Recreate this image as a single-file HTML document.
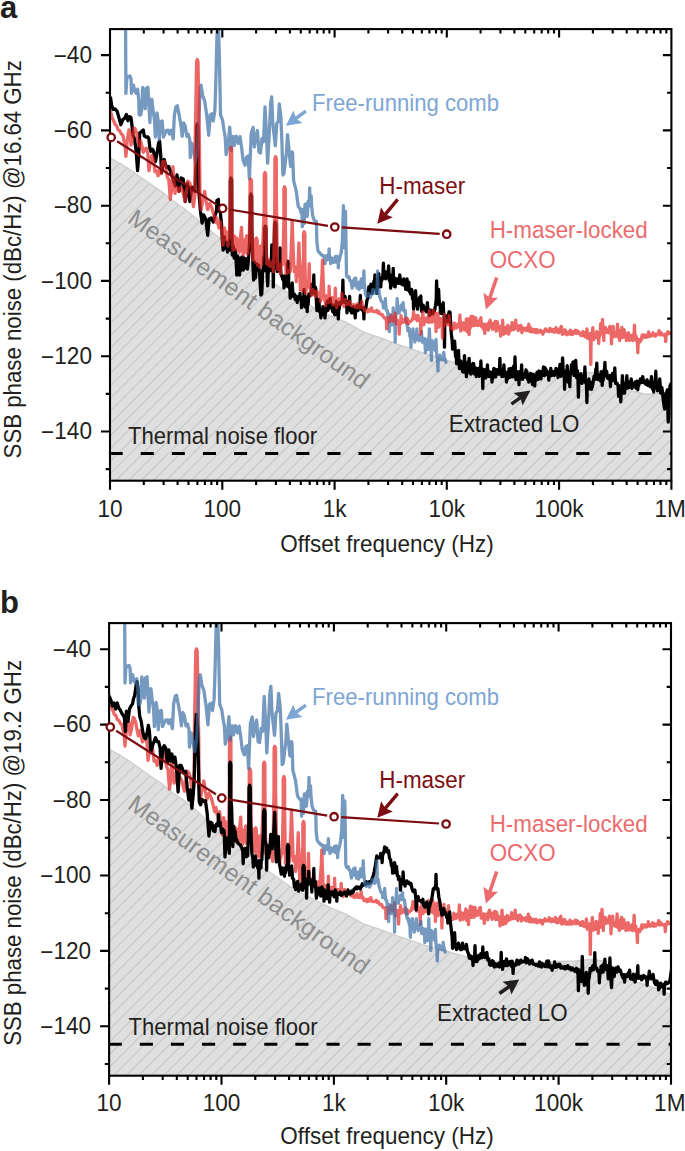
<!DOCTYPE html>
<html><head><meta charset="utf-8"><style>
html,body{margin:0;padding:0;background:#fff}
svg{display:block}
text{font-family:"Liberation Sans",sans-serif;fill:#231f20}
</style></head><body>
<svg width="685" height="1151" viewBox="0 0 685 1151">
<clipPath id="clipa"><rect x="110" y="29.1" width="561.4" height="451.6"/></clipPath>
<g clip-path="url(#clipa)">
<clipPath id="bga"><polygon points="108,482.7 108,158.3 111.3,158.6 121.1,164.1 129.9,169.6 140.8,177.2 151.8,184.9 162.7,192.6 173.7,201.3 184.6,209 195.6,217.7 206.5,227.6 217.5,236.3 228.4,245.5 248,260.5 263.6,276 287.4,292.5 297.2,299 330.7,316 346.5,322.5 364.3,332.3 380,337.6 397.9,344.3 424.8,353.5 446.8,360.5 460,364 491,371 540,374.5 575,374.5 588,372.5 596,373 605,377.5 615,384 625,389 632,391 645.6,394.3 659.3,393.6 673,395 673.4,482.7"/></clipPath>
<polygon points="108,482.7 108,158.3 111.3,158.6 121.1,164.1 129.9,169.6 140.8,177.2 151.8,184.9 162.7,192.6 173.7,201.3 184.6,209 195.6,217.7 206.5,227.6 217.5,236.3 228.4,245.5 248,260.5 263.6,276 287.4,292.5 297.2,299 330.7,316 346.5,322.5 364.3,332.3 380,337.6 397.9,344.3 424.8,353.5 446.8,360.5 460,364 491,371 540,374.5 575,374.5 588,372.5 596,373 605,377.5 615,384 625,389 632,391 645.6,394.3 659.3,393.6 673,395 673.4,482.7" fill="#dfdfdf"/>
<path clip-path="url(#bga)" d="M-350.2 482.7L105.4 27.1M-337.7 482.7L117.9 27.1M-325.1 482.7L130.5 27.1M-312.6 482.7L143 27.1M-300 482.7L155.6 27.1M-287.5 482.7L168.1 27.1M-275 482.7L180.6 27.1M-262.4 482.7L193.2 27.1M-249.9 482.7L205.7 27.1M-237.3 482.7L218.3 27.1M-224.8 482.7L230.8 27.1M-212.3 482.7L243.3 27.1M-199.7 482.7L255.9 27.1M-187.2 482.7L268.4 27.1M-174.6 482.7L281 27.1M-162.1 482.7L293.5 27.1M-149.6 482.7L306 27.1M-137 482.7L318.6 27.1M-124.5 482.7L331.1 27.1M-111.9 482.7L343.7 27.1M-99.4 482.7L356.2 27.1M-86.9 482.7L368.7 27.1M-74.3 482.7L381.3 27.1M-61.8 482.7L393.8 27.1M-49.2 482.7L406.4 27.1M-36.7 482.7L418.9 27.1M-24.2 482.7L431.4 27.1M-11.6 482.7L444 27.1M0.9 482.7L456.5 27.1M13.5 482.7L469.1 27.1M26 482.7L481.6 27.1M38.5 482.7L494.1 27.1M51.1 482.7L506.7 27.1M63.6 482.7L519.2 27.1M76.2 482.7L531.8 27.1M88.7 482.7L544.3 27.1M101.2 482.7L556.8 27.1M113.8 482.7L569.4 27.1M126.3 482.7L581.9 27.1M138.9 482.7L594.5 27.1M151.4 482.7L607 27.1M163.9 482.7L619.5 27.1M176.5 482.7L632.1 27.1M189 482.7L644.6 27.1M201.6 482.7L657.2 27.1M214.1 482.7L669.7 27.1M226.6 482.7L682.2 27.1M239.2 482.7L694.8 27.1M251.7 482.7L707.3 27.1M264.3 482.7L719.9 27.1M276.8 482.7L732.4 27.1M289.3 482.7L744.9 27.1M301.9 482.7L757.5 27.1M314.4 482.7L770 27.1M327 482.7L782.6 27.1M339.5 482.7L795.1 27.1M352 482.7L807.6 27.1M364.6 482.7L820.2 27.1M377.1 482.7L832.7 27.1M389.7 482.7L845.3 27.1M402.2 482.7L857.8 27.1M414.7 482.7L870.3 27.1M427.3 482.7L882.9 27.1M439.8 482.7L895.4 27.1M452.4 482.7L908 27.1M464.9 482.7L920.5 27.1M477.4 482.7L933 27.1M490 482.7L945.6 27.1M502.5 482.7L958.1 27.1M515.1 482.7L970.7 27.1M527.6 482.7L983.2 27.1M540.1 482.7L995.7 27.1M552.7 482.7L1008.3 27.1M565.2 482.7L1020.8 27.1M577.8 482.7L1033.4 27.1M590.3 482.7L1045.9 27.1M602.8 482.7L1058.4 27.1M615.4 482.7L1071 27.1M627.9 482.7L1083.5 27.1M640.5 482.7L1096.1 27.1M653 482.7L1108.6 27.1M665.5 482.7L1121.1 27.1" stroke="#c4c7c7" stroke-width="1.05" fill="none"/>
<polyline points="108,158.3 111.3,158.6 121.1,164.1 129.9,169.6 140.8,177.2 151.8,184.9 162.7,192.6 173.7,201.3 184.6,209 195.6,217.7 206.5,227.6 217.5,236.3 228.4,245.5 248,260.5 263.6,276 287.4,292.5 297.2,299 330.7,316 346.5,322.5 364.3,332.3 380,337.6 397.9,344.3 424.8,353.5 446.8,360.5 460,364 491,371 540,374.5 575,374.5 588,372.5 596,373 605,377.5 615,384 625,389 632,391 645.6,394.3 659.3,393.6 673,395" fill="none" stroke="#cfcfcf" stroke-width="1.4"/>
<line x1="109.6" y1="453.5" x2="671.4" y2="453.5" stroke="#000" stroke-width="2.9" stroke-dasharray="13.1 18.01"/>
<text transform="translate(126.2,221.8) rotate(35.5)" font-size="24.5" textLength="289.5" lengthAdjust="spacing" style="fill:#8d8d8d">Measurement background</text>
<path d="M110.6 98 111.6 105.3 113.1 109.4 115.2 108.9 117.2 111.5 119.2 118.6 120.8 124.7 122.8 119.6 124.4 118.6 126.4 114.5 127.9 120.7 129.5 116.6 131 117.6 132 125.8 133 135 134.6 139 136.1 151.3 137.6 170.7 138.7 156.4 139.7 132.9 141.2 131.9 143.3 129.9 144.3 136 145.8 137 147.9 137 148.9 139 149.9 148.2 150.9 151.3 152.5 149.3 153.5 151.3 154.5 156.4 155.5 161.5 157 153.4 158.6 143.1 159.6 141.1 160.6 153.4 161.6 172.8 163.2 161.5 164.2 159.5 165.2 163.6 166.8 167.7 168.8 166.6 169.8 169.7 170.8 171.8 172.4 176.9 173.9 182 175.4 186.1 177 175 179.1 191.3 181.1 178 183.2 179 185.2 201.5 187.3 183.1 189.8 201.5 191.9 187.2 194.9 191.3 196.3 160 196.6 126.2 197.3 124 198 126.2 198.3 160 198.8 191.3 200.5 211.7 202.1 223 203.6 214.8 205.7 218.9 207.7 235.3 209.2 218.9 211.3 217.9 213.3 222 214.9 215.8 216.5 211 216.9 200.5 217.3 211 218 209.4 218.4 199.5 218.8 209.2 220 209.7 221.5 224 222.3 240 223.2 250 224.4 237 225.3 248 226.5 242 227.5 252 228.5 244 229.5 250 230.2 225 230.3 180.2 231 178 231.7 180.2 231.8 225 232.3 255 233.2 246 234.2 258 235.2 250 236.2 262 236.8 275 237.6 256 238.5 268 239.6 275 240.5 258 241.5 270 242.5 257 243.3 270 244.3 258 245.3 268 246.3 259 247.5 269 248.5 258 249.5 245 250.3 215 250.3 196.2 251 194 251.7 196.2 251.8 225 252.8 262 253.6 280 254.6 262 255.5 278 256.5 264 257.5 270 258.5 265 259.5 272 260.9 295 261.8 294 262.7 269.7 263.2 271 263.6 257.2 264.1 270.8 264.6 228.3 265.3 226.1 266 228.3 266.5 262 267.7 285.8 268.6 264.8 269.7 261.3 270.6 270.7 271.4 260.8 271.8 245 272.2 260.3 272.9 259.5 273.3 286.9 273.8 259.5 274.6 224.2 275.3 222 276 224.2 276.3 263.4 277.4 271.5 278.3 266.2 279.6 266.1 280 248 280.4 266.3 280.9 273.8 282 276.6 282.9 279.4 283.6 276.5 284 287.9 284.4 276 284.9 280.8 285.7 279.7 286.1 275.6 286.6 279.8 287 286.2 287.7 283 287.4 263.5 288.1 261.3 288.8 263.5 288.6 283.7 289 287.5 289.8 286.3 290.2 298.1 290.6 285.9 291.1 291.4 291.8 290 292.2 282.8 292.6 289.7 293.1 296.3 293.9 296.1 294.3 294 294.8 295.7 295.2 299.7 295.9 295.9 296.3 300.1 296.8 296.5 297.2 302.5 298.4 297.1 299.6 298.6 300 293.4 300.4 298.8 301.1 297.6 301.5 307.7 301.9 297.7 302.4 303 303.7 300.2 304.1 289.3 304.6 300.6 305 306.8 305.9 296.8 306.8 297.3 307.2 311.7 307.6 296.8 308.1 304.6 308.9 293.9 310.2 295.4 311.1 293.9 311.9 284.2 312.8 293.8 313.4 289.8 313.8 275 314.2 290.1 314.9 288.8 315.3 287.2 315.8 288.9 316.4 301.3 316.9 310.7 317.3 301.1 317.8 307.7 318.4 307.2 318.9 299.5 319.3 306.5 319.8 312 320.4 311.1 320.9 317.9 321.3 310.8 321.8 315.2 322.6 310.2 323 306.6 323.4 310.3 323.9 314.5 324.6 310.7 325 317.9 325.4 309.7 325.9 312.4 326.7 303.8 327.1 301.5 327.6 303.5 328 310.3 328.9 299.8 329.7 304.6 330.1 298.5 330.6 304.5 331 308.2 332.2 305.4 332.7 311.7 333.1 304.9 333.6 312.5 334.2 311.1 334.7 314.8 335.1 310.8 335.9 312.1 336.3 301.5 336.8 312.3 337.2 315 337.9 306.9 338.3 318.9 338.8 307.5 339.2 309.1 339.9 302.4 340.4 304.6 340.8 302.7 341.3 302.6 342.4 299.2 342.9 280.1 343.3 299.3 343.8 302.4 344.6 298.6 345 296.4 345.4 298.5 345.9 303.2 346.6 302.3 347 312.8 347.4 301.6 347.9 308.2 349.2 307.2 349.6 296.4 350.1 306.9 350.5 311 351.2 308.6 351.6 312.8 352.1 308.6 352.5 312.9 353.2 308.5 353.6 306.6 354.1 308.5 354.8 309.8 355.2 317.9 355.6 309.3 356.1 311.8 357.2 305.6 358.1 310.3 358.9 305.1 359.9 306.9 360.3 295.4 360.8 307.1 361.8 309.7 362.7 307.8 363.4 307.6 363.9 318.9 364.3 307.7 364.8 308.9 365.9 307.7 367 299.9 367.9 298.2 368.4 291.2 368.9 286.8 369.3 290.9 369.8 293.2 370.4 286.4 370.9 284.2 371.3 286.3 371.8 286.3 372.2 293.4 372.6 285.6 373.1 290.9 373.9 281.2 374.4 284.6 374.9 275 375.3 284.6 375.8 287 376.4 282.1 376.8 293.4 377.2 282.9 377.7 287.7 378.4 280.4 378.8 273.7 379.2 280.8 379.7 285.1 380.4 278.1 380.8 286.8 381.2 278 381.7 280.6 382.9 275.1 383.4 263.1 383.8 274.9 384.3 278.1 385.6 272.3 386 278.9 386.4 271.8 386.9 277.2 388.2 274 388.6 265.8 389.1 274 389.5 280.9 390.2 275.1 390.6 288.1 391.1 275.5 391.5 281.2 392.8 280.1 393.2 268.4 393.6 279.6 394.1 286.2 394.8 278.1 395.2 286.8 395.6 278.6 396.1 282.5 397.2 278.9 398.1 283.4 399.4 279.6 399.8 275 400.2 279.1 400.7 283.6 401.4 281 401.8 284.2 402.2 280.3 402.7 284.8 403.4 282.8 403.8 278.9 404.2 282.4 404.7 285.4 405.2 283.7 405.7 289.4 406.1 283.5 406.6 285.6 407 278.9 407.4 284.9 407.9 290 408.8 282.2 409.2 290 409.7 292 410.1 290.6 410.6 294.1 411.2 291.6 411.6 289.4 412.1 291 412.5 298.8 413.2 296.8 413.6 309.1 414.1 297.3 414.5 302.4 415.2 302.1 415.6 290.7 416.1 302.8 416.5 305.8 417.2 300.9 417.6 309.1 418.1 300.4 418.5 304.6 419.4 297.6 420.4 303.7 420.8 296 421.2 304.7 421.7 311.3 422.4 305.4 422.8 307.8 423.2 305.1 423.7 309.5 424.9 307.4 425.4 310.4 425.8 308 426.3 311.8 426.9 309.8 427.4 302.6 427.8 309.7 428.3 312.2 428.9 310 429.4 315.7 429.8 310 430.3 314.6 432 310.4 432.9 313.8 434.6 310.4 435.5 305.3 436.2 300.2 436.6 280.9 437.1 300.3 437.5 304.3 438.2 300.6 438.6 289.4 439.1 300.5 439.5 304.5 440.1 304.5 440.5 313.1 440.9 304.8 441.4 313.5 442.2 305.5 442.8 312.6 443.2 302.6 443.6 312.8 444.1 314.7 444.5 347.2 444.9 315 445.4 319.8 446.1 316.7 446.5 318.3 446.9 316.3 447.4 321.9 449.1 311.8 450 312.3 451.3 333.4 452.2 341.1 452.6 349.1 453.1 341.1 453.5 348.2 454.2 349.2 454.6 341.2 455.1 348.7 455.5 356.4 456.2 354.6 456.6 363.6 457.1 354.5 457.5 362.8 458.1 359.5 458.5 350.4 458.9 359.8 459.4 368.6 460.1 360.6 460.5 366.2 460.9 361.1 461.4 367.1 462.1 365.8 462.5 371.5 462.9 365.7 463.4 372.2 464.1 366.5 464.5 355.7 464.9 367.1 465.4 369.2 465.9 366.9 466.4 376.7 466.8 366.6 467.3 370.3 468.1 361.6 468.7 368.3 469.1 358.3 469.6 368.6 470 373.4 470.6 367.9 471 374.1 471.4 368 471.9 373.2 472.8 363.3 473.2 370 473.7 363.6 474.1 370.5 474.6 374.1 475.9 368.1 476.3 376.7 476.8 369 477.2 371.2 478.2 368.8 479.1 376.4 479.9 367.3 480.4 371.6 480.9 361 481.3 371.7 481.8 375.6 482.4 369.2 482.8 388.5 483.2 369.3 483.7 374.8 484.4 369.9 484.8 374.1 485.2 369.8 485.7 378 486.9 371.7 487.4 364.9 487.8 372.1 488.3 376.4 489.4 371.5 490.3 376.6 491.6 372.5 492 382 492.4 372.7 492.9 378.5 493.8 368.3 494.2 373.2 494.7 368.8 495.1 372.5 495.6 376.9 496.9 369.6 497.3 374.1 497.8 369.9 498.2 374.1 499.4 370.9 499.9 358.3 500.3 370 500.8 374.8 501.4 369.7 501.9 376.7 502.3 369.2 502.8 376.4 503.4 372.3 503.9 364.9 504.3 372.4 504.8 376 506.1 372.5 506.5 382 506.9 372.4 507.4 379.1 508.7 372.4 509.1 368.8 509.6 372.9 510 377.4 510.9 368.3 511.4 370.8 511.8 376.7 512.2 370.5 512.7 376.8 513.6 366.2 514.5 373.5 515 357 515.5 373.5 515.9 379.5 516.5 371.8 517 379.3 517.5 371.6 517.9 376.4 518.5 372.3 519 384.6 519.5 371.6 519.9 379 521.1 375.3 521.6 364.9 522.1 375.1 522.5 379.4 523.8 374 524.2 376.7 524.7 373.7 525.1 377.2 526 369.8 526.4 375.3 526.9 371.5 527.4 375.7 527.8 379.8 528.3 376.3 528.8 382 529.2 376.5 529.7 381 530.5 373.4 531 379.4 531.5 374.1 532 378.7 532.4 384.5 533.2 374.1 534.2 376.8 534.7 385.9 535.2 376.3 535.6 380.5 536.5 376.2 537 372.3 537.5 376.5 537.9 379.7 538.4 373.5 538.9 371 539.4 373.1 539.8 375.8 540.4 371.5 540.9 378.8 541.4 372 541.8 376.3 543 372.6 543.5 367 544 371.7 544.4 375.7 545.2 368 545.8 372.3 546.2 369.6 546.7 372.2 547.1 374.5 548.3 372.5 548.8 380.1 549.2 372 549.7 376.4 550.3 372.2 550.8 368.3 551.2 372.1 551.7 375.6 552.9 372 553.4 373.6 553.9 371.8 554.3 375.5 555.5 371.5 556 368.3 556.5 371.7 556.9 374.1 557.5 369.3 558 377.5 558.5 369.3 558.9 374.1 559.5 369 560 364.4 560.5 368.4 560.9 376.3 562.1 368.8 562.6 357.8 563.1 369.4 563.5 373.5 564.1 370.7 564.6 389.3 565.1 371.6 565.5 378.6 566.8 377.4 567.2 365.7 567.7 377.6 568.1 382.1 569.3 372.6 569.8 386.7 570.2 372.8 570.7 374 571.5 364.7 572.6 370.5 573.1 361.8 573.6 370.8 574 375.4 575.2 369.4 575.7 360.4 576.2 369.1 576.6 377.6 577.5 370.6 577.9 377.5 578.4 397.2 578.9 377.3 579.3 382.2 580.5 378.6 581 373.6 581.5 378.2 581.9 383.3 583 378.8 583.9 381.6 584.4 378 584.9 367 585.4 378.9 585.8 383.1 586.4 382 586.9 402.5 587.4 381.4 587.8 387.4 588.4 385.4 588.9 378.8 589.4 385.8 589.8 388.8 591 382.7 591.5 389.3 592 382.2 592.4 387 594.1 376.2 595 379.4 595.9 368.6 596.3 374.8 596.8 363.1 597.2 375.3 597.7 379.5 598.9 375.1 599.4 378.8 599.9 374.7 600.3 380.9 601.1 371.7 601.8 375.2 602.2 385.4 602.7 375.5 603.1 380.3 604 369.9 604.4 375 604.9 362.4 605.4 374.7 606.1 375.8 606.6 371.2 607.1 375.4 607.5 378 608.3 376.4 608.8 378.8 609.2 376.5 609.9 375.6 610.4 386.5 610.9 375.5 611.3 379.4 612.1 377.1 612.6 373.4 613.1 377.4 613.5 380.7 614.3 377.2 614.8 367.9 615.2 377.6 615.7 383.3 617 383.2 618.1 385.9 618.6 396.4 619.1 385.6 619.5 390.7 620.3 391.1 620.8 401.8 621.2 391 621.9 389.5 622.4 375.6 622.9 388.9 623.3 393.2 624.1 383.2 624.6 393.1 625.1 383.3 625.5 388.1 626.3 382.6 626.8 375.6 627.2 382.6 627.7 388 628.5 382.1 629 387.6 629.5 381.9 629.9 385.8 630.8 383 631.2 378.8 631.7 383 632.1 388.3 632.9 383.1 633.4 385.4 633.9 383.6 634.5 384.3 635 382.1 635.5 383.8 635.9 388.1 636.8 381.1 637.3 384 637.8 389.8 638.2 384 638.7 385.7 639.5 380.9 640 381.4 640.5 378.8 641 381.6 641.4 382.6 642.2 380.8 642.7 376.6 643.2 380.2 643.6 382.6 644.4 381.2 644.9 383.2 645.4 381.2 645.8 384.4 646.6 381.3 647.1 379.9 647.6 381.7 648 385.5 648.8 382 649.3 385.4 649.8 382.2 650.2 386.7 651 381.7 651.5 376.6 652 381.7 652.4 388.8 653.2 382.5 653.7 392 654.2 382.6 654.6 387.4 655.3 383.9 655.8 371.2 656.2 383.4 657 383.7 657.5 390.9 658 383 658.4 388.3 659.2 385.6 659.7 378.8 660.2 385.3 660.6 393 661.9 387.6 663.5 401.8 664.6 409 665.5 396 666 393 666.5 395.6 667.3 390 668.2 422 669.2 398 670 386 670.8 384" fill="none" stroke="#000" stroke-width="3.3" stroke-linejoin="round" stroke-linecap="round" opacity="1"/>
<path d="M125.6 20 125.6 29.5 125.9 93.4 126.9 76 128.4 77 130 76 131 79.1 131.5 93.4 132.5 85.2 133.5 85.2 134.6 90.3 136.1 93.4 137.6 89.3 138.7 99.5 139.2 114.9 140.7 114.9 141.7 109.7 142.7 87.3 144.3 99.5 145.3 108.7 146.3 88.3 147.9 87.3 148.9 105.7 149.9 122.5 150.9 99.5 151.9 99.5 153 109.7 154.5 120 155.3 137 157 112.8 158.1 120 159.2 140 160.6 122 162.2 121 163.4 137 165.2 133.3 166.4 130.5 168.3 130.2 169.5 134 171.4 130.2 173.2 139 174.4 114.9 176 106.7 177.3 105.7 179.1 114.9 181.1 126.1 182.2 136.3 183.7 123 185.2 126.1 186.8 136.3 188.3 134.3 189.8 140 190.3 157.6 191.9 143.3 193.5 150 195.5 162 197.5 150 199.2 110 200.2 88 201.1 85.2 202.6 95.4 204.6 100.6 206.7 114.9 208.7 135.3 210.3 114.9 211.8 113.8 213.3 121 214.9 109.7 215.9 79.1 216.9 38.2 217.4 25 218.4 25 219.4 58.7 220 89.3 220.5 114.9 222.5 120 224 130.2 225.2 137 226.1 154.5 228.1 145.3 229.7 127.1 231.2 150.4 233.2 136.3 234.3 145.3 236.3 136.1 238.4 143.3 240 136.6 241.5 146.9 243.1 160.1 245.1 165.3 246.6 157.1 248.2 156.1 249.4 179 251.2 133.6 253.1 127.4 254.3 146.9 255.8 136.6 257.4 130.5 258.9 152 260.4 153 262 138.7 263.5 141.7 265 107 266.6 136.6 267.6 163.2 269.1 136.6 270.7 102.9 271.7 96.8 272.7 121.3 273.7 131.5 275.3 145.8 276.8 123.4 278.3 121.3 279.3 103.9 280.9 117.2 281.9 141.7 282.9 175 284 173.5 285.5 160.2 286.5 152 287.5 134.6 289 150 290.6 166.3 292.1 152 292.6 153 293.6 180.7 296.2 190.9 298.2 206.2 300.3 209.3 301.2 213.1 301.9 209.5 302.3 226.6 302.8 209.5 303.2 219.3 304.1 223.6 305.1 204.2 306.6 204.2 307.2 216.4 308.2 201.1 309.2 204.4 309.7 187.8 310.1 204.5 310.8 205.9 311.2 196 311.6 206.2 312.8 216.4 314.3 220.5 315.2 221.5 316.4 221.5 316.9 242 317.9 250.4 318.8 252 320.4 253.5 321.3 254.9 322.1 254.9 323.5 256.6 324.6 256.1 325 263.7 325.4 255.9 325.9 258.7 327.2 259.7 327.6 255.5 328.1 259.4 328.7 259 329.1 248.9 329.6 259 330.2 257.9 330.7 263.7 331.1 257.8 331.6 260.3 332.7 258.6 333.6 262.4 334.9 260.2 335.3 256.6 335.8 260.6 336.2 262 337.1 256.4 337.9 258.1 338.3 267.8 338.8 257.6 339.2 260.9 340.4 255.5 341.3 252.2 342.4 240.2 343.4 205.7 344.3 247.6 345.5 211.3 346 242 346.5 275 347.4 277.1 349 277 349.9 280.8 351.1 281.1 352.1 288.2 353 282.5 353.8 282 354.2 279 354.6 281.7 355.2 285.7 355.7 278 356.1 285.5 356.8 283.7 357.2 288.2 357.6 283.7 358.1 284.6 358.9 282.3 359.3 289.3 359.8 282.2 360.2 283.5 360.9 282.1 361.3 279 361.8 282.3 362.2 287.4 363.4 282.4 363.9 270.9 364.3 282.9 365.4 293.4 366.3 296 367.2 296.1 368.3 293.4 369.2 296 369.9 294.5 370.3 297.3 370.8 294.3 371.2 295.3 372.4 292.5 372.9 289.4 373.3 292.6 373.8 292 375.1 290.7 375.5 293.4 375.9 290 376.4 292.7 377.1 291.6 377.5 271 377.9 291 378.4 293.1 378.8 289.4 379.2 292.8 379.7 296.1 380.8 299.9 381.7 301.8 382.9 302.4 383.4 307.8 383.8 302.5 384.3 307.7 384.9 305.6 385.4 298.6 385.8 306 386.3 310.2 387.3 310.4 388.2 317.4 388.9 314.5 389.3 331.5 389.8 314.5 390.2 320.3 390.9 321.1 391.3 318.3 391.8 320.6 392.2 324.9 392.8 319.4 393.2 307.8 393.6 319.5 394.1 319.9 394.8 313.4 395.2 342 395.6 312.8 396.1 314.7 396.8 310.4 397.2 298.6 397.6 310.6 398.1 312.1 398.8 307.9 399.2 313.1 399.6 307.6 400.1 309.2 401.1 305.2 402 309.6 402.7 307.7 403.1 302.6 403.6 307.7 404 311 405.1 310.4 406 319.9 407 323.6 407.9 330.8 408.6 328.6 409 331.5 409.4 328.6 409.9 336.5 410.6 335 411 347.2 411.4 334.9 411.9 337.8 412.6 336.8 413 328.8 413.4 337 413.9 338.2 414.4 336.7 414.9 342 415.3 336.4 415.8 340.1 416.4 335.7 416.9 328.8 417.3 336 417.8 339.1 418.4 335.7 418.9 340.7 419.3 336.1 419.8 340.2 421.1 338.6 421.5 331.5 421.9 338.7 422.4 342.2 423.1 338.7 423.5 342 423.9 338.5 424.4 343.6 424.9 339.2 425.4 352.5 425.8 339.3 426.3 346.4 426.9 343.9 427.4 339.3 427.8 344 428.3 349.6 428.9 343.7 429.4 328.8 429.8 343.9 430.3 345.4 430.9 340.4 431.4 360.4 431.8 340.5 432.3 344.3 433.3 342 434.2 349.2 435.1 346.7 435.6 350.7 436 339.3 436.4 350.5 436.9 356.5 437.4 355.9 437.9 370.9 438.3 355.7 438.8 358.2 439.9 355.1 440.8 359.7 441.9 357.7 442.8 359.9 443.4 356.6 443.8 352.5 444.2 356.9 444.7 357.9 445.8 362" fill="none" stroke="rgb(60,110,165)" stroke-width="3.3" stroke-linejoin="round" stroke-linecap="round" opacity="0.7"/>
<path d="M110.6 111.5 112.1 117.6 113.6 120.7 115.2 124.7 116.7 125.8 118.2 129.9 119.8 130.9 121.3 133.9 122.8 135 123.8 140.1 124.9 143.1 125.9 156.4 127.4 139 128.9 129.9 130 132.9 131 145.2 132.5 139 134.1 127.8 135.1 128.8 136.6 132.9 138.1 141.1 139.2 146.2 140.7 141.1 142.2 147.2 143.3 152.3 144.8 149.3 146.3 148.2 147.9 153.4 148.9 170.7 150.4 161.5 151.9 155.4 153.5 159.5 155 171.7 156.5 170.7 158.1 175.8 159.6 169.7 161.1 173.8 162.7 161.5 164.2 161.5 165.7 167.7 167.3 176.9 168.8 179.9 170.3 199.3 171.9 187.1 172.9 166.6 173.9 182 175 193.4 176.5 187.2 178.6 191.3 180.6 187.2 182.7 191.3 185.2 201.5 187.8 181.1 189.8 183.1 191.4 189.3 193.4 206.6 194.9 195.4 195.2 140 195.9 100 196.6 61.7 197.3 59.5 198 61.7 198.7 100 199.4 140 200 195 201.1 209.7 202.6 201.5 204.6 191.3 206.2 201.5 207.7 209.7 209.7 203.6 211.8 207.7 213.8 214.8 215 218.7 215.4 222 215.8 218.6 216.5 221.2 216.9 217.9 217.3 221 217.8 224.1 218.5 224.6 218.9 228.1 219.3 225.1 220.1 226.8 220.5 222 220.9 226.8 222 232.2 223 245 224.5 228 225.5 240 226.5 232 227.6 233.4 228 246 228.4 233.7 229.5 238 230.2 190 230.3 149.6 231 147.4 231.7 149.6 231.8 190 232.2 240 233 250 234.5 236 235.5 249 236.5 238 237.5 250 238.5 240 239.5 252 240.6 236 241.5 227.4 242.2 245 243.2 255 244.5 240 245.5 252 246.5 236 247.5 254 248.5 245 249.4 232 249.9 210 250.1 181.3 250.8 179.1 251.5 181.3 251.7 210 252.2 248 253 260 254.5 240 255.5 262 255.8 240.2 256.5 238 257.2 240.2 257.5 265 258.5 250 259.5 267 260.5 246 261.5 265 262.5 250 264.2 210 264.3 174.7 265 172.5 265.7 174.7 265.8 210 266.6 263.4 267.5 264.4 268.2 261.6 268.7 259.3 269.1 261.5 269.6 266.2 270.4 263.4 270.8 266.4 271.2 263.3 271.7 266.7 272.9 261.6 273.3 271.5 273.8 261 274.8 200 274.9 158.8 275.6 156.6 276.3 158.8 276.4 200 277.4 263.4 277.9 269.5 278.3 263.7 278.8 267.2 280.1 264.4 280.5 273.6 280.9 264.4 281.4 265.9 282.1 264.2 282.5 259.3 282.9 264.2 283.9 220 283.9 189 284.6 186.8 285.3 189 285.3 220 286.1 273.6 287 273.2 288.1 270.5 289 272.3 290.2 271.5 291.6 240 292.2 220.4 292.8 240 293.9 267.2 294.3 271.5 294.8 266.8 295.2 268.2 295.9 267.6 296.3 281.7 296.8 267.3 297.2 276.3 298.3 260 298.9 242.9 299.5 260 300.4 289.9 301.6 276.6 302 291.3 302.4 276.2 303.6 255 303.5 233.9 304.2 231.7 304.9 233.9 304.8 255 305.6 293.4 306.5 287.1 307.7 287.2 308.7 280 309.2 263.7 309.7 280 310.7 291.3 311.6 295.4 312.4 291.2 312.8 289.3 313.2 291.1 313.7 294.3 314.4 291.8 314.8 295.4 315.2 291.6 315.7 296.5 316.4 293.5 316.9 291.3 317.3 292.8 317.8 294.9 318.9 293.4 319.9 292.4 320.4 301.5 320.8 292.1 322 275 322.5 260.1 323 275 324 299.5 325.1 295.8 325.5 305.6 325.9 295.7 326.4 302.9 327.6 301.5 328.7 302.6 329.1 286.2 329.6 301.8 330.7 301.5 331.6 301.8 332.2 297.4 332.7 304.6 333.1 297.9 333.6 304.8 334.9 302.3 335.3 288.2 335.8 302.7 336.4 299.6 336.8 307.7 337.2 299.8 337.7 304 338.9 299 339.3 301.5 339.8 299 340.2 304.7 341.4 300.9 341.9 293.4 342.3 300.8 342.8 302.6 343.4 300.5 343.9 306.6 344.3 300.4 345.1 302.2 345.5 299.5 345.9 301.8 346.4 304.4 347.5 303.6 348.4 304 349.6 301.5 350.5 304.7 351.6 305.6 352.5 306.1 353.6 304.6 354.5 306.5 355.2 305.1 355.7 307.7 356.1 305.3 356.6 307.5 357.2 306 357.7 303.6 358.1 305.6 358.6 307.4 359.4 305.6 359.8 307.7 360.2 305.8 360.7 307 361.4 305.3 361.8 301.5 362.2 305.6 362.7 308.2 363.9 307.7 364.8 310.7 365.9 310.7 367.2 310.3 367.6 311.8 368.1 309.6 368.5 310.7 369.4 309.4 370.2 311.2 371.2 310.8 371.6 307.8 372.1 310.3 372.5 311 374.2 311.8 375.1 311.6 376.8 310.4 377.7 312.8 378.6 311.4 379.5 313.1 380.4 314.2 382.1 314.4 383 316.2 384.7 318.3 385.6 318.4 386.2 317.9 386.7 328.8 387.1 318.4 387.6 319.2 388.6 318.3 389.5 321.9 390.4 316.6 390.9 317.4 391.3 315.7 391.8 318.1 392.2 319.7 392.8 317.3 393.2 321 393.6 317.6 394.1 320.6 394.8 319.6 395.2 313.1 395.6 319.1 396.1 324 396.8 320.9 397.2 323.6 397.6 320.5 398.1 321.8 398.8 320.9 399.2 334.1 399.6 321.6 400.1 324.8 400.7 322.2 401.1 315.7 401.6 321.7 402 322.8 402.7 320 403.1 322.3 403.6 320 404 321.9 405.2 321.3 405.7 318.3 406.1 320.6 406.6 322.9 407.4 318.5 407.9 320.8 408.4 323.6 408.8 321.3 409.3 322 411 321 411.9 320.3 413.2 316.7 413.6 311.8 414.1 316.8 414.5 318.6 416.2 315.7 417.1 320.6 417.9 315.4 418.9 319.6 419.8 321.1 420.4 318.9 420.8 334.1 421.2 318.9 421.7 322.1 422.4 319.1 422.8 311.8 423.2 319.4 423.7 324.9 425.4 318.3 426.3 321.3 426.9 317.8 427.4 321 427.8 317.5 428.3 322.3 428.9 317.7 429.4 310.4 429.8 317.2 430.3 322 430.9 317.7 431.4 321 431.8 316.9 432.3 322.2 432.9 318.3 433.3 310.4 433.8 318 434.2 320.9 435.1 313.1 435.6 316.9 436 331.5 436.4 317.8 436.9 322.8 437.4 319.1 437.9 313.1 438.3 319.2 438.8 327.1 440.1 320.3 440.5 318.3 440.9 320.4 441.4 324.3 442.1 320.3 442.5 338 442.9 320 443.4 326.7 444.1 321.1 444.5 314.4 444.9 322 445.4 324.5 446.1 320.8 446.5 323.6 446.9 320.8 447.4 324.4 448.7 321.8 449.1 315.7 449.6 322.2 450 325.7 451.7 328.8 452.6 329.4 453.5 329.1 454.4 323.1 454.9 326.6 455.3 324.2 455.8 326.5 456.2 328.1 457.4 324.4 457.9 326.8 458.3 323.9 458.8 326.6 459.4 324.9 459.9 315 460.3 324.8 460.8 331 461.8 322.8 462.7 327 463.4 322.8 463.8 329.4 464.2 323.1 464.7 329.9 465.9 326.7 466.4 318.9 466.8 326.2 467.3 331.6 468.1 319 468.7 322.6 469.1 334.7 469.6 323 470 328.6 470.6 323.2 471 316.3 471.4 322.7 471.9 325.8 472.8 316.5 473.2 322.4 473.7 325.5 474.1 321.6 474.6 325.3 475.2 321.8 475.6 317.6 476.1 322 476.5 325.3 477.8 321.4 478.2 325.5 478.6 321.8 479.1 324.6 479.9 320 480.4 323.8 480.9 317.6 481.3 323.1 481.8 327.1 482.8 324.2 483.7 329.6 484.4 324.1 484.8 333.4 485.2 324.5 485.7 328.9 487.4 324.2 488.3 330.1 489.1 322.1 489.7 324.6 490.1 320.2 490.6 324.9 491 327.1 492.2 323.4 492.7 329.4 493.1 323.7 493.6 327.4 494.9 325 495.3 321.5 495.8 325.3 496.2 331.1 497.1 321.7 498 325.5 498.9 330.1 500.2 327 500.6 336 501.1 326.5 501.5 332.8 502.2 330.7 502.6 320.2 503.1 330.2 503.5 334.3 504.8 327.8 505.2 333.4 505.6 327.4 506.1 332.9 507.4 328.6 507.8 325.5 508.2 328.3 508.7 334.2 509.9 327.4 510.4 329.4 510.8 327.9 511.3 330.2 512.1 322.7 513.1 326.8 514 329.5 515.2 327 515.7 320.2 516.2 326.8 516.6 328 517.8 326.4 518.3 330.7 518.8 326 519.2 328.6 520 325.6 520.5 327.7 521 325.5 521.5 327.7 521.9 332.6 523.6 328.1 524.5 329.3 525.8 328.4 526.2 330.7 526.7 327.9 527.1 330.6 528.3 329.2 528.8 324.2 529.2 329.4 529.7 331.3 530.5 327.5 531 329.8 531.5 332 532 329.1 532.4 331.6 534.1 329.4 535 332.3 536.7 329.4 537.6 332.8 538.5 332 539.4 331 540.3 330.2 541.2 332.3 542.4 331.6 542.9 334.2 543.4 331.5 543.8 331.9 545.5 328.9 546.4 331 548.1 330.2 549 331.7 549.9 328.5 550.8 328.9 551.7 331.4 552.9 329.5 553.4 331.5 553.9 329.6 554.3 332.3 555.5 330.5 556 327.6 556.5 330.7 556.9 331.9 558.1 329.7 558.6 332.8 559.1 329.8 559.5 331.6 560.4 328 560.8 331.4 561.3 326.3 561.8 330.9 562.2 334.3 563.2 332.8 564.1 333.6 565 329.8 565.9 331.5 566.8 334.7 568 332.4 568.5 334.2 569 332 569.4 333.7 570 332.6 570.5 330.2 571 332.9 571.4 334.6 572.6 332.1 573.1 334.2 573.6 331.6 574 332.9 575.2 332.4 575.7 330.2 576.2 331.8 576.6 333.5 577.5 330.9 578.4 331.5 579.3 333.6 580.5 333.4 581 335.5 581.5 333.6 581.9 335.3 582.5 333.3 583 331.5 583.5 333.9 583.9 335.5 584.4 332.7 584.9 336.8 585.4 332.6 585.8 336.9 586.4 334.7 586.9 328.9 587.4 334.6 587.8 338.6 588.9 334.2 589.8 335.8 590.3 333.5 590.8 364.4 591.2 333.7 591.7 337.5 592.3 334.6 592.8 327.6 593.2 334.6 593.7 339.8 594.8 335.5 595.7 337.5 596.8 331.5 597.7 337.5 598.2 332.8 598.7 343.4 599.2 333.5 599.6 336.3 600.2 333.8 600.7 323.7 601.2 333.6 602 330 602.5 319.4 603 330.4 603.3 328.8 603.8 340.5 604.2 329.1 605.5 327.4 606.4 332.3 607.7 329.6 608.6 332.7 609.4 328.7 609.9 326.3 610.4 328.9 611 329 611.5 343.8 612 329 612.6 332.6 613.1 326.3 613.6 331.9 614 336.6 614.8 332.7 615.3 336.1 615.8 332.7 616.2 336.1 617 331.8 617.5 324.1 618 331.8 618.4 337.2 619.2 330.3 619.7 340.5 620.2 330.5 620.6 334.7 621.4 332 621.9 327.4 622.4 331.9 622.8 337.5 623.6 334.5 624.1 329.6 624.6 334.1 625 336 625.8 333.6 626.3 340.5 626.8 334.3 627.2 338 628 335.7 628.5 332.8 629 336 629.4 340.4 630.7 336.1 631.6 338.1 632.3 335.1 632.8 340.5 633.2 335.2 634 336.7 634.5 325.2 635 337.6 635.6 339.9 636.1 336.1 636.6 340.9 637.3 339.3 637.8 352.6 638.2 339.3 638.7 343.5 639.5 339.9 640 341.6 640.5 339.3 640.9 340.7 641.8 336.9 642.2 335 642.7 337.1 643.1 337.7 644.3 335 645.2 337.1 646 335.5 646.5 337.2 647 335.2 647.4 336.9 648.2 335.5 648.7 331.8 649.2 335 649.6 336.4 650.4 334.8 650.9 336.1 651.4 334.6 651.8 335.2 652.6 334.9 653.1 332.8 653.6 335.2 654 335.8 654.8 334.2 655.3 336.1 655.8 334.5 656.2 335.5 657.5 333.9 658.6 332.9 659.1 330.7 659.6 333.5 660 334.8 661.3 332.8 662.2 334.8 663.5 335 664.4 335.2 665.2 334.3 665.7 341.6 666.2 334.9 666.6 335.3 667.9 331.8 668.8 333.6 670.1 332.8 671 334.1 672 333" fill="none" stroke="rgb(228,40,38)" stroke-width="3.3" stroke-linejoin="round" stroke-linecap="round" opacity="0.7"/>
<path d="M117.1 141.2L216.7 204.6M229.5 209.5L327.9 225.9M341.8 227.4L439.7 233.8" fill="none" stroke="#7d0c10" stroke-width="2.2"/>
</g>
<rect x="110" y="29.1" width="561.4" height="451.6" fill="none" stroke="#000" stroke-width="2.1"/>
<path d="M110 480.7v9M143.8 480.7v4.3M143.8 29.1v4.3M163.6 480.7v4.3M163.6 29.1v4.3M177.6 480.7v4.3M177.6 29.1v4.3M188.5 480.7v4.3M188.5 29.1v4.3M197.4 480.7v4.3M197.4 29.1v4.3M204.9 480.7v4.3M204.9 29.1v4.3M211.4 480.7v4.3M211.4 29.1v4.3M217.1 480.7v4.3M217.1 29.1v4.3M222.3 480.7v9M222.3 29.1v8.5M256.1 480.7v4.3M256.1 29.1v4.3M275.9 480.7v4.3M275.9 29.1v4.3M289.9 480.7v4.3M289.9 29.1v4.3M300.8 480.7v4.3M300.8 29.1v4.3M309.7 480.7v4.3M309.7 29.1v4.3M317.2 480.7v4.3M317.2 29.1v4.3M323.7 480.7v4.3M323.7 29.1v4.3M329.4 480.7v4.3M329.4 29.1v4.3M334.6 480.7v9M334.6 29.1v8.5M368.4 480.7v4.3M368.4 29.1v4.3M388.1 480.7v4.3M388.1 29.1v4.3M402.2 480.7v4.3M402.2 29.1v4.3M413 480.7v4.3M413 29.1v4.3M421.9 480.7v4.3M421.9 29.1v4.3M429.4 480.7v4.3M429.4 29.1v4.3M436 480.7v4.3M436 29.1v4.3M441.7 480.7v4.3M441.7 29.1v4.3M446.8 480.7v9M446.8 29.1v8.5M480.6 480.7v4.3M480.6 29.1v4.3M500.4 480.7v4.3M500.4 29.1v4.3M514.4 480.7v4.3M514.4 29.1v4.3M525.3 480.7v4.3M525.3 29.1v4.3M534.2 480.7v4.3M534.2 29.1v4.3M541.7 480.7v4.3M541.7 29.1v4.3M548.2 480.7v4.3M548.2 29.1v4.3M554 480.7v4.3M554 29.1v4.3M559.1 480.7v9M559.1 29.1v8.5M592.9 480.7v4.3M592.9 29.1v4.3M612.7 480.7v4.3M612.7 29.1v4.3M626.7 480.7v4.3M626.7 29.1v4.3M637.6 480.7v4.3M637.6 29.1v4.3M646.5 480.7v4.3M646.5 29.1v4.3M654 480.7v4.3M654 29.1v4.3M660.5 480.7v4.3M660.5 29.1v4.3M666.3 480.7v4.3M666.3 29.1v4.3M671.4 480.7v9M110 55.1h-9M671.4 55.1h-8.5M110 92.7h-4.3M671.4 92.7h-4.3M110 130.4h-9M671.4 130.4h-8.5M110 168h-4.3M671.4 168h-4.3M110 205.7h-9M671.4 205.7h-8.5M110 243.3h-4.3M671.4 243.3h-4.3M110 280.9h-9M671.4 280.9h-8.5M110 318.6h-4.3M671.4 318.6h-4.3M110 356.2h-9M671.4 356.2h-8.5M110 393.9h-4.3M671.4 393.9h-4.3M110 431.5h-9M671.4 431.5h-8.5M110 469.1h-4.3M671.4 469.1h-4.3" stroke="#000" stroke-width="2.1" fill="none"/>
<text x="92" y="62.8" text-anchor="end" font-size="22.6" transform="matrix(1 0 0 1.06 0 -3.77)"><tspan dy="1.2">−</tspan><tspan dy="-1.2">40</tspan></text>
<text x="92" y="138.1" text-anchor="end" font-size="22.6" transform="matrix(1 0 0 1.06 0 -8.29)"><tspan dy="1.2">−</tspan><tspan dy="-1.2">60</tspan></text>
<text x="92" y="213.4" text-anchor="end" font-size="22.6" transform="matrix(1 0 0 1.06 0 -12.80)"><tspan dy="1.2">−</tspan><tspan dy="-1.2">80</tspan></text>
<text x="92" y="288.6" text-anchor="end" font-size="22.6" transform="matrix(1 0 0 1.06 0 -17.32)"><tspan dy="1.2">−</tspan><tspan dy="-1.2">100</tspan></text>
<text x="92" y="363.9" text-anchor="end" font-size="22.6" transform="matrix(1 0 0 1.06 0 -21.83)"><tspan dy="1.2">−</tspan><tspan dy="-1.2">120</tspan></text>
<text x="92" y="439.2" text-anchor="end" font-size="22.6" transform="matrix(1 0 0 1.06 0 -26.35)"><tspan dy="1.2">−</tspan><tspan dy="-1.2">140</tspan></text>
<text x="110" y="517.3" text-anchor="middle" font-size="22.6" transform="matrix(1 0 0 1.06 0 -31.04)">10</text>
<text x="222.3" y="517.3" text-anchor="middle" font-size="22.6" transform="matrix(1 0 0 1.06 0 -31.04)">100</text>
<text x="334.6" y="517.3" text-anchor="middle" font-size="22.6" transform="matrix(1 0 0 1.06 0 -31.04)">1k</text>
<text x="446.8" y="517.3" text-anchor="middle" font-size="22.6" transform="matrix(1 0 0 1.06 0 -31.04)">10k</text>
<text x="559.1" y="517.3" text-anchor="middle" font-size="22.6" transform="matrix(1 0 0 1.06 0 -31.04)">100k</text>
<text x="670.2" y="517.3" text-anchor="middle" font-size="22.6" transform="matrix(1 0 0 1.06 0 -31.04)">1M</text>
<text x="387" y="551.8" text-anchor="middle" font-size="22.5" transform="matrix(1 0 0 1.06 0 -33.11)">Offset frequency (Hz)</text>
<text transform="translate(21.4,259.3) rotate(-90) scale(1,1.06)" text-anchor="middle" font-size="22.25">SSB phase noise (dBc/Hz) @16.64 GHz</text>
<text x="0" y="17.7" font-size="31" font-weight="bold">a</text>
<circle cx="111.2" cy="137.4" r="3.7" fill="#fff" stroke="#7d0c10" stroke-width="2.3"/>
<circle cx="222.6" cy="208.4" r="3.7" fill="#fff" stroke="#7d0c10" stroke-width="2.3"/>
<circle cx="334.8" cy="227" r="3.7" fill="#fff" stroke="#7d0c10" stroke-width="2.3"/>
<circle cx="446.7" cy="234.2" r="3.7" fill="#fff" stroke="#7d0c10" stroke-width="2.3"/>
<text x="312.1" y="110.6" font-size="22.4" textLength="187" lengthAdjust="spacingAndGlyphs" style="fill:#7ea6d4" transform="matrix(1 0 0 1.06 0 -6.64)">Free-running comb</text>
<polygon points="304.9,109.7 295.4,116.6 293.4,110.6 285.9,125.7 302.6,123.1 297.4,119.4 306.9,112.5" fill="#7ea6d4"/>
<text x="379.3" y="194.1" font-size="22.4" style="fill:#7d0c10" transform="matrix(1 0 0 1.06 0 -11.65)">H-maser</text>
<polygon points="396.4,198.3 384.3,212.7 381.0,207.3 377.3,223.8 392.9,217.3 387.0,214.9 399.0,200.5" fill="#7d0c10"/>
<text x="489.7" y="237.6" font-size="22.4" style="fill:#ec6b6e" transform="matrix(1 0 0 1.06 0 -14.26)">H-maser-locked</text>
<text x="489.7" y="268" font-size="22.4" style="fill:#ec6b6e" transform="matrix(1 0 0 1.06 0 -16.08)">OCXO</text>
<polygon points="495.0,276.9 488.4,296.6 483.4,292.8 485.9,309.5 498.0,297.8 491.7,297.7 498.4,278.1" fill="#ec6b6e"/>
<text x="448.7" y="432" font-size="22.4" transform="matrix(1 0 0 1.06 0 -25.92)">Extracted LO</text>
<polygon points="512.4,405.6 520.8,399.5 522.7,405.6 530.3,390.5 513.6,393.0 518.7,396.7 510.4,402.8" fill="#231f20"/>
<text x="127.9" y="443.8" font-size="22.4" textLength="189.2" lengthAdjust="spacingAndGlyphs" transform="matrix(1 0 0 1.06 0 -26.63)">Thermal noise floor</text>
<clipPath id="clipb"><rect x="109.1" y="623.1" width="561.9" height="452.6"/></clipPath>
<g clip-path="url(#clipb)">
<clipPath id="bgb"><polygon points="107.1,1077.7 107.1,749.6 110.4,749.9 120.2,755.4 129,760.9 139.9,768.5 150.9,776.2 161.8,783.9 172.9,792.7 183.8,800.4 194.8,809.1 205.7,819 216.7,827.7 227.6,836.9 247.2,852 262.8,867.5 286.7,884 296.5,890.5 330,907.6 345.8,914.1 363.6,923.9 379.3,929.2 397.3,935.9 424.2,945.1 446,951 470,958 491,961 540,962 575,961 590,959.5 603,961 612,970 625,979 640,983 655,988 663,992 673,995 673,1077.7"/></clipPath>
<polygon points="107.1,1077.7 107.1,749.6 110.4,749.9 120.2,755.4 129,760.9 139.9,768.5 150.9,776.2 161.8,783.9 172.9,792.7 183.8,800.4 194.8,809.1 205.7,819 216.7,827.7 227.6,836.9 247.2,852 262.8,867.5 286.7,884 296.5,890.5 330,907.6 345.8,914.1 363.6,923.9 379.3,929.2 397.3,935.9 424.2,945.1 446,951 470,958 491,961 540,962 575,961 590,959.5 603,961 612,970 625,979 640,983 655,988 663,992 673,995 673,1077.7" fill="#dfdfdf"/>
<path clip-path="url(#bgb)" d="M-352.5 1077.7L104.1 621.1M-340 1077.7L116.6 621.1M-327.5 1077.7L129.1 621.1M-314.9 1077.7L141.7 621.1M-302.4 1077.7L154.2 621.1M-289.8 1077.7L166.8 621.1M-277.3 1077.7L179.3 621.1M-264.8 1077.7L191.8 621.1M-252.2 1077.7L204.4 621.1M-239.7 1077.7L216.9 621.1M-227.1 1077.7L229.5 621.1M-214.6 1077.7L242 621.1M-202.1 1077.7L254.5 621.1M-189.5 1077.7L267.1 621.1M-177 1077.7L279.6 621.1M-164.4 1077.7L292.2 621.1M-151.9 1077.7L304.7 621.1M-139.4 1077.7L317.2 621.1M-126.8 1077.7L329.8 621.1M-114.3 1077.7L342.3 621.1M-101.7 1077.7L354.9 621.1M-89.2 1077.7L367.4 621.1M-76.7 1077.7L379.9 621.1M-64.1 1077.7L392.5 621.1M-51.6 1077.7L405 621.1M-39 1077.7L417.6 621.1M-26.5 1077.7L430.1 621.1M-14 1077.7L442.6 621.1M-1.4 1077.7L455.2 621.1M11.1 1077.7L467.7 621.1M23.7 1077.7L480.3 621.1M36.2 1077.7L492.8 621.1M48.7 1077.7L505.3 621.1M61.3 1077.7L517.9 621.1M73.8 1077.7L530.4 621.1M86.4 1077.7L543 621.1M98.9 1077.7L555.5 621.1M111.4 1077.7L568 621.1M124 1077.7L580.6 621.1M136.5 1077.7L593.1 621.1M149.1 1077.7L605.7 621.1M161.6 1077.7L618.2 621.1M174.1 1077.7L630.7 621.1M186.7 1077.7L643.3 621.1M199.2 1077.7L655.8 621.1M211.8 1077.7L668.4 621.1M224.3 1077.7L680.9 621.1M236.8 1077.7L693.4 621.1M249.4 1077.7L706 621.1M261.9 1077.7L718.5 621.1M274.5 1077.7L731.1 621.1M287 1077.7L743.6 621.1M299.5 1077.7L756.1 621.1M312.1 1077.7L768.7 621.1M324.6 1077.7L781.2 621.1M337.2 1077.7L793.8 621.1M349.7 1077.7L806.3 621.1M362.2 1077.7L818.8 621.1M374.8 1077.7L831.4 621.1M387.3 1077.7L843.9 621.1M399.9 1077.7L856.5 621.1M412.4 1077.7L869 621.1M424.9 1077.7L881.5 621.1M437.5 1077.7L894.1 621.1M450 1077.7L906.6 621.1M462.6 1077.7L919.2 621.1M475.1 1077.7L931.7 621.1M487.6 1077.7L944.2 621.1M500.2 1077.7L956.8 621.1M512.7 1077.7L969.3 621.1M525.3 1077.7L981.9 621.1M537.8 1077.7L994.4 621.1M550.3 1077.7L1006.9 621.1M562.9 1077.7L1019.5 621.1M575.4 1077.7L1032 621.1M588 1077.7L1044.6 621.1M600.5 1077.7L1057.1 621.1M613 1077.7L1069.6 621.1M625.6 1077.7L1082.2 621.1M638.1 1077.7L1094.7 621.1M650.7 1077.7L1107.3 621.1M663.2 1077.7L1119.8 621.1" stroke="#c4c7c7" stroke-width="1.05" fill="none"/>
<polyline points="107.1,749.6 110.4,749.9 120.2,755.4 129,760.9 139.9,768.5 150.9,776.2 161.8,783.9 172.9,792.7 183.8,800.4 194.8,809.1 205.7,819 216.7,827.7 227.6,836.9 247.2,852 262.8,867.5 286.7,884 296.5,890.5 330,907.6 345.8,914.1 363.6,923.9 379.3,929.2 397.3,935.9 424.2,945.1 446,951 470,958 491,961 540,962 575,961 590,959.5 603,961 612,970 625,979 640,983 655,988 663,992 673,995" fill="none" stroke="#cfcfcf" stroke-width="1.4"/>
<line x1="108.7" y1="1044.3" x2="671" y2="1044.3" stroke="#000" stroke-width="2.9" stroke-dasharray="13.1 18.01"/>
<text transform="translate(126.2,807.5) rotate(35.5)" font-size="24.5" textLength="289.5" lengthAdjust="spacing" style="fill:#8d8d8d">Measurement background</text>
<path d="M109.7 701 111.2 707.1 112.7 710.2 114.3 714.3 115.8 715.4 117.3 719.5 118.9 720.5 120.4 723.5 121.9 724.6 122.9 729.7 124 732.7 125 746 126.5 728.6 128 719.5 129.1 722.5 130.1 734.8 131.6 728.6 133.2 717.4 134.2 718.4 135.7 722.5 137.2 730.7 138.3 735.8 139.8 730.7 141.3 736.8 142.4 741.9 143.9 738.9 145.4 737.8 147 743 148 760.3 149.5 751.1 151 745 152.6 749.1 154.1 761.3 155.6 760.3 157.2 765.4 158.7 759.3 160.2 763.4 161.8 751.1 163.3 751.1 164.8 757.3 166.5 766.6 168 769.6 169.5 789 171.1 776.8 172.1 756.2 173.1 771.7 174.2 783.1 175.7 776.9 177.8 781 179.8 776.9 181.9 781 184.4 791.2 187 770.8 189 772.8 190.6 779 192.6 796.3 194.1 785.1 194.4 729.6 195.1 689.5 195.8 651.1 196.5 648.9 197.2 651.1 197.9 689.5 198.6 729.6 199.2 784.7 200.3 799.4 201.8 791.2 203.8 781 205.4 791.2 206.9 799.4 208.9 793.3 211 797.4 213 804.5 214.6 811.7 215.6 810.8 216.1 807.6 216.5 810.6 217 814.4 217.6 814.1 218.1 817.8 218.5 814 219.2 816.2 219.7 811.7 220.1 816.7 221.2 822 222.2 834.8 223.7 817.7 224.7 829.8 225.7 821.8 226.8 823.7 227.2 835.8 227.7 823.6 228.7 827.8 229.4 779.7 229.5 739.2 230.2 737 230.9 739.2 231 779.7 231.4 829.8 232.2 839.8 233.7 825.8 234.7 838.8 235.7 827.8 236.7 839.8 237.7 829.8 238.7 841.8 239.8 825.8 240.7 817.1 241.4 834.8 242.4 844.8 243.7 829.8 244.7 841.8 245.7 825.8 246.7 843.8 247.7 834.8 248.6 821.8 249.1 799.7 249.3 771 250 768.8 250.7 771 250.9 799.7 251.4 837.8 252.2 849.8 253 832 253.7 829.8 254.4 832 254.7 851.8 255 830 255.7 827.8 256.4 830 256.7 854.8 257.7 839.8 258.7 856.8 259.7 835.8 260.7 854.8 261.7 839.8 263.4 799.7 263.5 764.3 264.2 762.1 264.9 764.3 265 799.7 265.8 853.2 266.7 854 267.5 851.7 267.9 849.1 268.4 851.5 268.8 855.9 269.6 852.4 270 856.2 270.5 852.5 270.9 856.9 272.1 851.5 272.5 861.3 273 851.5 274 789.7 274.1 748.4 274.8 746.2 275.5 748.4 275.6 789.7 276.7 853.7 277.1 859.3 277.6 853.1 278 855.9 279.3 854 279.8 863.4 280.2 854.1 280.7 857.8 281.3 854.3 281.8 849.1 282.2 853.5 283.2 809.7 283.2 778.7 283.9 776.5 284.6 778.7 284.6 809.7 285.4 863.4 286.3 863.3 287.4 860.3 288.3 863.5 289.5 861.3 290.9 829.8 291.5 810.1 292.1 829.8 293.1 857.1 293.6 861.3 294 856.8 294.5 856.8 295.1 856.7 295.6 871.5 296 857.5 296.5 867.5 297.6 849.8 298.2 832.7 298.8 849.8 299.7 879.8 300.8 866.1 301.3 881.2 301.7 865.8 302.9 844.8 302.8 823.7 303.5 821.5 304.2 823.7 304.1 844.8 304.9 883.3 305.8 877.1 307 877.1 308 869.8 308.5 853.5 309 869.8 310 881.2 310.9 884.5 311.6 881.4 312.1 879.2 312.5 881.4 313 884 313.6 881.7 314.1 885.3 314.5 881.9 315 886.7 315.7 882.8 316.2 881.2 316.6 882.9 317.1 886 318.2 883.3 319.2 881.7 319.7 891.4 320.1 881.7 321.3 864.8 321.8 849.9 322.3 864.8 323.3 889.4 324.3 885.7 324.8 895.5 325.2 885.4 325.7 893.2 326.9 891.4 327.9 892 328.4 876.1 328.8 891.8 330 891.4 330.9 893.2 331.5 887.3 332 894.5 332.4 887.5 332.9 894.5 334.2 892.5 334.6 878.1 335.1 892.1 335.7 889.5 336.1 897.6 336.6 889.9 337 892.3 338.2 889.4 338.6 891.4 339.1 889.7 339.5 894.2 340.8 890.1 341.2 883.3 341.7 890.3 342.1 893.1 342.8 890.7 343.2 896.5 343.7 890.3 344.4 891.9 344.8 889.4 345.3 891.8 345.7 894 346.8 893.5 347.7 893.4 348.9 891.4 349.8 894.4 350.9 895.5 351.8 896.1 352.9 894.5 353.8 897.1 354.6 895.7 355 897.6 355.5 895.9 355.9 896.4 356.6 895.4 357 893.5 357.5 896.1 357.9 897.2 358.7 895.2 359.1 897.6 359.6 895.8 360 897.2 360.7 895.8 361.1 891.4 361.6 895.3 362 898.1 363.2 897.6 364.1 900.7 365.2 900.6 366.5 899.3 366.9 901.7 367.4 899.6 367.8 901.5 368.7 899.2 369.5 901 370.5 899.9 370.9 897.7 371.4 900 371.8 901.1 373.5 901.7 374.4 901.6 376.1 900.3 377 902.3 377.9 901.4 378.8 903 379.7 904.5 381.4 904.3 382.3 906.3 384 908.2 384.9 908.4 385.6 907.7 386 918.7 386.5 907.7 386.9 909.1 387.9 908.2 388.8 912.9 389.7 906.9 390.2 907.1 390.7 905.6 391.1 907.5 391.6 909.8 392.1 907.7 392.6 910.9 393 906.8 393.5 910.7 394.1 909.3 394.6 903 395 909 395.5 916 396.1 910.9 396.6 913.5 397 910.6 397.5 911.6 398.1 910.7 398.6 924 399 911 399.5 913.7 400 912.5 400.5 905.6 400.9 912.4 401.4 913 402 909.7 402.5 912.2 402.9 909.9 403.4 912 404.6 910.5 405.1 908.2 405.5 910.6 406 913.8 406.8 909.4 407.3 910.2 407.8 913.5 408.2 911.1 408.7 912.2 410.4 910.9 411.3 910.3 412.5 906.3 413 901.7 413.4 906.8 413.9 908.4 415.6 905.6 416.5 911.2 417.3 904 418.3 909.5 419.2 911.6 419.7 908 420.2 924 420.6 908.1 421.1 912 421.7 909.6 422.2 901.7 422.6 909.6 423.1 913.6 424.8 908.2 425.7 911.2 426.3 907.7 426.8 910.9 427.2 907.5 427.7 912.6 428.3 907.4 428.8 900.3 429.2 907.5 429.7 911.3 430.3 907 430.8 910.9 431.2 907.6 431.7 912 432.2 907.3 432.7 900.3 433.1 908.2 433.6 913.2 434.4 903.7 434.9 906.7 435.4 921.4 435.8 907.6 436.3 911.3 436.8 909.9 437.3 903 437.7 909.6 438.2 915.5 439.4 909.8 439.9 908.2 440.3 910.2 440.8 913.3 441.4 910.7 441.9 928 442.3 910.9 442.8 914.7 443.4 911 443.9 904.3 444.3 911.9 444.8 914.1 445.4 910.8 445.9 913.5 446.3 910.1 446.8 914.2 448.1 912 448.5 905.6 449 912.1 449.4 916.3 451.1 918.7 452 919.3 452.9 919.5 453.8 913.2 454.3 916.3 454.7 914.1 455.2 916 455.6 918.7 456.9 914.5 457.3 916.7 457.8 914.2 458.2 917.4 458.9 914.3 459.3 904.9 459.8 914.3 460.2 920.2 461.2 912.7 462.1 916.6 462.8 913.5 463.2 919.3 463.7 913.2 464.1 918.1 465.4 916.5 465.8 908.8 466.3 916.9 466.7 920.7 467.6 911.2 468.1 913.3 468.5 924.6 469 913.3 469.4 917.7 470 912.8 470.4 906.2 470.9 912.7 471.3 917.3 472.2 906.9 472.7 911.6 473.1 915.4 473.6 911.9 474 917.4 474.6 911.2 475 907.5 475.5 911.2 475.9 915.5 477.2 911.8 477.6 915.4 478.1 911.4 478.5 913.9 479.4 908.5 479.9 913.6 480.3 907.5 480.8 912.9 481.2 918.1 482.2 914.1 483.1 918.2 483.8 913.9 484.2 923.3 484.7 914.5 485.1 918.7 486.8 914.1 487.7 919.8 488.6 912.1 489.1 915.2 489.5 910.1 490 914.5 490.4 916.6 491.7 913.2 492.1 919.3 492.6 913.1 493 917 494.3 915.8 494.7 911.4 495.2 915.6 495.6 919.5 496.5 912.1 497.4 915.4 498.3 919.6 499.6 916.9 500 925.9 500.5 917.1 500.9 923.4 501.6 919.9 502 910.1 502.5 920 502.9 924.4 504.2 917.1 504.7 923.3 505.1 917.5 505.6 923.7 506.8 918.6 507.3 915.4 507.7 918.6 508.2 920.9 509.4 917.2 509.9 919.3 510.3 917.8 510.8 919.2 511.6 912.6 512.6 916.7 513.5 918.8 514.7 917.2 515.2 910.1 515.6 917.1 516.1 918.4 517.3 916 517.8 920.6 518.2 915.7 518.7 918.6 519.5 915.2 520 918.2 520.5 915.4 520.9 917.6 521.4 921 523.1 918 524 919.2 525.2 918.3 525.7 920.6 526.1 917.6 526.6 920.9 527.8 919.1 528.3 914.1 528.7 919.3 529.2 921.6 530 917.2 530.5 918.9 531 921.9 531.4 919.2 531.9 921.9 533.6 919.3 534.5 922.1 536.2 919.3 537.1 922.7 538 922.2 538.8 920.8 539.8 920.1 540.7 922.4 541.9 920.6 542.4 924.1 542.8 920.6 543.3 921.9 545 918.8 545.9 920.9 547.6 920.1 548.5 920.9 549.3 917.8 550.3 918.8 551.2 921.7 552.4 919.1 552.9 921.4 553.3 919.5 553.8 921.2 555 920.3 555.5 917.5 555.9 920.6 556.4 922.6 557.6 920 558.1 922.7 558.5 919.1 559 921.5 559.8 917.9 560.4 921.3 560.8 916.2 561.3 921.2 561.7 924.1 562.7 922.7 563.6 923.5 564.5 919.4 565.4 921.4 566.3 924.1 567.6 922.2 568 924.1 568.5 922.5 568.9 924.1 569.6 922.6 570 920.1 570.5 922.5 570.9 924 572.2 921.7 572.6 924.1 573.1 922.1 573.5 923.2 574.8 921.9 575.2 920.1 575.7 921.9 576.1 923.8 577 920.6 577.9 921.4 578.8 923.8 580.1 922.8 580.5 925.4 581 923 581.4 925.3 582.1 923.6 582.5 921.4 583 923.5 583.4 925.2 584 923.5 584.4 926.7 584.9 923.1 585.3 925.5 586 923.7 586.4 918.8 586.9 924.6 587.3 929.2 588.4 924.1 589.3 926.8 589.9 924 590.3 954.4 590.8 923.7 591.2 927.2 591.9 923.9 592.3 917.5 592.8 923.8 593.2 930.1 594.3 925.4 595.2 929.4 596.3 921.4 597.2 928.9 597.8 922.6 598.2 933.4 598.7 922.7 599.1 926.6 599.8 923.8 600.2 913.6 600.7 923 601.1 927.2 601.6 920.1 602 909.3 602.5 920 602.9 919.4 603.3 930.5 603.8 918.7 605 917.3 605.9 923.3 607.2 919.5 608.1 922.8 609 918.7 609.4 916.2 609.9 918.6 610.6 919.2 611 933.8 611.5 919 612.2 921.7 612.6 916.2 613.1 922.6 613.5 925 614.4 922.8 614.9 926 615.3 922.6 615.8 926.3 616.6 921.5 617.1 914 617.5 921.8 618 927.6 618.8 920.4 619.3 930.5 619.7 920.3 620.2 924.5 621 922.1 621.5 917.3 621.9 921.9 622.4 928.4 623.2 923.7 623.7 919.5 624.1 924.4 624.6 926.8 625.4 923.4 625.9 930.5 626.3 923.5 626.8 929.2 627.6 925.5 628.1 922.7 628.5 925.6 629 930 630.3 926 631.2 929.3 631.9 925 632.4 930.5 632.8 925.1 633.6 927.1 634.1 915.1 634.5 926.7 635.2 930.8 635.7 926 636.1 929.9 636.9 930.1 637.4 942.6 637.8 929.3 638.3 932.2 639.1 929.9 639.6 931.6 640 929.9 640.5 930.3 641.3 926.9 641.8 924.9 642.2 926.8 642.7 928.2 643.9 924.9 644.8 926.4 645.6 925.3 646.1 927.1 646.5 925.4 647 926.7 647.8 925.4 648.3 921.7 648.7 925.5 649.2 925.9 650 924.8 650.5 926 650.9 924.8 651.4 925.6 652.2 924.3 652.7 922.7 653.1 924.9 653.6 926.3 654.4 923.8 654.9 926 655.3 924.2 655.8 925.7 657.1 923.8 658.2 923.4 658.7 920.6 659.1 922.8 659.6 925.1 660.9 922.7 661.8 924.4 663.1 924.9 664 925.3 664.8 924.6 665.3 931.6 665.7 924.3 666.2 925.3 667.5 921.7 668.4 923.6 669.7 922.7 670.6 923.7 671.6 922.9" fill="none" stroke="rgb(228,40,38)" stroke-width="3.3" stroke-linejoin="round" stroke-linecap="round" opacity="0.7"/>
<path d="M109.5 696.8 111.1 700.9 112.6 706 114.1 702.9 115.7 709 117.2 702.9 118.7 708 120.3 710.1 122.3 714.2 124.3 717.2 125.4 731.5 126.4 711.1 127.9 721.3 129.5 709 131 706 132.5 703.9 133.5 698.8 134.6 695.8 136.1 685.5 137.1 681.5 138.1 689.6 138.7 705 139.7 716.2 141.2 721.3 142.7 731.5 144.3 737.7 145.8 738.7 147.3 731.5 148.4 725.4 149.4 731.5 150.9 752 152.5 745.8 154 741.7 155.5 737.7 157 741.7 158.6 741.7 160.1 747.9 161.1 768.3 162.7 748.9 164.2 745.8 165.7 747.9 167.3 762.2 168.8 749.9 170.3 761.2 171.9 754 173.4 762.2 174.9 757.1 176.5 768.3 178.1 792 179.6 765.4 181.1 765.4 182.7 769.5 184.2 773.6 185.7 771.5 187.3 787.9 188.8 800.1 190.3 789.9 191.9 808.3 193.4 792 194.4 771.5 195.4 730.7 196.3 714.3 197.5 725.5 198.3 761.3 199 792 199.3 802.1 200.6 804.8 202 799.5 203.7 801.3 205.4 800.4 207.2 813.4 208.9 836 210.2 822.1 211.9 823 213.2 830.8 214.6 825.9 215 831.7 215.4 825.9 216.2 826.1 216.7 823.9 217.1 825.9 218.1 824.3 218.5 814.3 218.9 825 219.8 826.2 220.2 822.1 220.6 826.5 221.1 829 221.5 832.6 221.9 829.4 222.4 830.7 222.8 829.1 223.2 831.2 224.1 830.8 225 856.9 226.3 837.8 227.6 839.5 229.3 853.4 229.8 800 229.5 764.5 230.2 762.3 230.9 764.5 230.7 800 231.5 804.8 232.8 846.5 233.7 826.5 234.6 834.4 235 830.8 235.4 834.1 236.2 841.2 236.7 839.5 237.1 841.4 238.4 843.8 240.2 844.7 241.9 848.2 242.8 851.9 243.2 863.8 243.6 852.3 244.6 853.7 245 848.2 245.4 853.2 245.9 853.3 246.3 856.9 246.8 853.2 247.7 855.8 248.9 820 249 787.5 249.7 785.3 250.4 787.5 250.5 820 251.8 852.7 252.9 858.3 253.3 867 253.8 857.8 254.2 862.2 254.9 860.9 255.3 855.8 255.8 860.9 256.4 865.5 256.9 860.9 257.3 865.1 257.8 868 258.4 861 258.9 878.2 259.3 860.7 259.8 868.8 260.4 861 260.9 868 261.3 860.6 261.8 860.1 263.5 830 263.6 812 264.3 809.8 265 812 265 840 266.2 844.9 266.6 870.1 267.1 845.4 267.5 853.5 268.2 846.1 268.6 857.8 269.1 846.2 269.5 853.5 270.2 843.4 270.7 834.3 271.1 843.6 271.8 840.8 272.2 848.6 272.6 841.2 273.9 830 274.7 812.3 275.5 840 276.3 861.9 277.2 855 277.9 853.2 278.3 836.3 278.8 853.5 279.2 862.5 280.4 869 281.3 874.2 282.4 868 283.3 873.4 284.1 868.2 284.5 876.2 284.9 868.8 285.4 872.6 286.1 869.1 286.5 866 286.9 869.4 287.6 868.3 287.3 846.7 288 844.5 288.7 846.7 288.4 868.4 289.2 869.4 289.6 875.2 290.1 869.3 290.5 871.3 291.2 872.4 291.6 866 292.1 871.7 292.5 878.3 293.6 879.3 294.5 887.4 295.2 883.4 295.7 889.5 296.1 883 296.6 888 297.2 886.2 297.7 881.3 298.1 885.9 298.6 891.2 299.4 885 299.8 887.4 300.2 885.4 300.7 889 301.4 884 301.8 889.5 302.2 884.6 302.7 890.3 303.2 887.3 302.9 867.6 303.6 865.4 304.3 867.6 304.1 887.2 305.1 883.8 306.2 879 306.6 898.1 307.1 879.2 307.5 885 308.2 883.9 308.7 871.5 309.1 883.8 310.2 879.7 311.4 880.3 311.8 892 312.2 880.2 312.7 886.6 313.4 884.1 313.8 868.5 314.2 883.8 315.3 881.7 316.4 898.1 317.3 893.2 317.9 888.3 318.4 894 318.8 888.6 319.4 891.2 319.9 887.9 320.3 890.6 320.8 896 321.6 892.1 322 886.9 322.4 892.5 322.9 895.8 323.6 889.7 324 901.2 324.4 889.9 324.9 896.9 326.1 892 327 898.7 327.7 893.7 328.1 884.8 328.6 894.1 329.2 893 329.6 902.2 330.1 892.7 330.8 892 331.2 894 331.6 892 332.1 894.6 332.8 893.9 333.2 892 333.6 893.8 334.1 896.8 334.9 893.1 335.3 889.9 335.8 893.4 336.4 892.9 336.8 901.2 337.2 892.8 338.3 894 339.2 894.4 340.4 892 341.3 895.4 342.4 894 343.3 894 344.5 892 345.4 894 346.1 893.3 346.5 896.1 346.9 893.6 347.6 893.5 348 889.9 348.4 892.8 348.9 893.7 350.1 894 351 892.8 351.7 891 352.1 893 352.6 890.9 353 892.4 354.2 888.9 355.1 888.8 356.2 886.9 357.1 888.9 358.2 886.9 359.1 887.6 359.9 887.3 360.3 888.9 360.8 887.3 361.2 887.2 362.3 883.8 363.2 885.2 364.4 884.8 365.3 884.4 366.4 881.7 367.6 883.6 368.5 883.7 369.4 881.6 370.3 882.9 371.2 881.6 372.2 878.3 373.1 876.1 374.2 871.8 375.1 867.1 376.8 856 377.7 858 378.8 857.3 379.7 857.8 380.4 855.9 380.8 853.4 381.2 855.6 381.7 854.9 382.1 862.6 382.6 854.9 383.4 853.4 384.2 849.8 384.7 846.8 385.1 850.3 385.6 851.5 386.2 849.8 386.7 848.1 387.1 850.3 387.6 852.2 388.6 850.7 389.5 858.1 390.6 859.9 391.5 866.1 392.2 864.5 392.6 873.1 393.1 863.9 393.5 869.9 394.2 866.7 394.6 862.6 395.1 867.3 395.5 872.9 396.1 871.3 396.5 866.5 396.9 871.3 397.4 875.8 398.1 876.2 398.5 879.6 398.9 876.3 399.4 879.6 400.1 880 400.5 890.1 400.9 880 401.4 884.2 402.7 882.8 403.1 871.8 403.6 882.5 404 884.3 404.7 881.7 405.1 886.2 405.6 881.1 406 883.1 407 881 407.9 883.4 409 882.3 409.9 884.2 411 883.6 411.9 888.4 413 891.5 413.9 891.4 414.9 890.1 415.8 898.1 416.2 909.9 416.6 897.5 417.1 900.1 417.8 899.7 418.2 896.7 418.6 900.2 419.1 900.8 420.8 900.7 421.7 902 422.8 899.3 423.7 905.6 424.4 903.9 424.8 907.2 425.2 903.8 425.7 906.7 426.4 905 426.8 902 427.2 905.2 427.7 905.7 428.2 906 428.7 913.8 429.1 905.8 429.6 906.7 430.7 902 431.6 900.3 433.3 888.8 434.2 888.1 435.1 886.9 435.6 888.9 436 874.4 436.4 888.2 436.9 888 437.9 888.8 438.8 896.8 439.9 902 440.8 910 441.4 909.6 441.9 915.1 442.3 909.6 442.8 914.5 443.4 910.7 443.8 908.5 444.2 911.2 444.7 914 445.8 912.5 446.7 917.4 447.4 915.7 447.8 923 448.2 916.1 448.7 922.1 449.2 919.4 449.7 912 450.1 919.4 451.3 929.9 452.2 937.9 452.6 948.3 453.1 938.2 453.5 944.7 454.2 942.7 454.6 932.6 455.1 942.9 455.5 947.2 456.2 945.1 456.6 949.6 457.1 945.3 457.5 948.4 458.1 945 458.5 943.1 458.9 945.1 459.4 947.7 460.1 946.5 460.5 949.6 460.9 946.5 461.4 949.5 462.1 945.6 462.5 943.1 462.9 945.7 463.4 948.6 464.5 948.3 465.4 948.7 465.9 947.8 466.4 944.4 466.8 947.3 467.3 950.8 468.4 953.6 469.3 958 470.6 955.8 471 958.8 471.4 956.3 471.9 959 472.6 957 473 965.4 473.4 957 473.9 961.8 474.6 958.4 475 945.7 475.4 959 475.9 961.4 476.4 956.9 476.9 961.5 477.3 956.6 477.8 960 478.4 955.6 478.9 958.8 479.3 955.1 479.8 958.3 480.4 955.8 480.9 953.6 481.3 955.1 481.8 957.6 482.4 954.2 482.8 947 483.2 954.4 483.7 955.6 484.4 954.2 484.8 957.5 485.2 953.6 485.7 957.2 486.4 956.2 486.8 952.3 487.2 955.3 487.7 960 488.8 958.8 489.7 964.7 490.2 962.3 490.7 965.4 491.1 962.4 491.6 965.1 492.4 960.7 492.9 963.4 493.4 961.5 493.8 963.1 494.3 967.1 496 964.1 496.9 966 498.2 963.7 498.6 966.7 499.1 963.1 499.5 967 500.8 963.1 501.2 952.3 501.6 963.7 502.2 961.4 502.6 969.3 503.1 961.7 503.5 963.9 504.5 961.5 505.4 965.7 506.1 962.6 506.5 958.8 506.9 961.9 507.4 965.7 508.1 961.8 508.5 964.1 508.9 962.1 509.4 964.4 509.9 964.3 510.4 961.5 510.8 963.4 511.3 966.2 512.1 961.1 512.6 963.8 513.1 973.3 513.6 964.2 514 964.8 515 964.1 515.9 965.3 516.5 962.3 517 960.1 517.5 962.3 517.9 963.8 518.5 961.8 519 964.1 519.5 961 519.9 963.1 521 960.1 521.9 962.1 523.6 961.5 524.5 961.8 525 960.3 525.5 957.5 526 960.1 526.4 962.9 527 960.5 527.5 958.8 528 960.7 528.4 962.2 529 961.1 529.5 964.1 530 961 530.4 962.8 531.6 961.8 532.1 960.1 532.6 962.5 533 964.1 534.7 964.1 535.6 965 537 964.4 537.9 966 539.1 964.4 539.6 961.8 540.1 964.8 540.5 966.5 541.1 963.8 541.6 967 542.1 963.4 542.5 966.1 544.2 964.4 545.1 966.5 546.3 964.8 546.8 961.1 547.2 964.5 547.7 966.9 548.5 961 549.5 965.7 550.4 967.5 551.6 965.9 552.1 970.3 552.6 966 553 968.1 554.2 966.6 554.7 961.8 555.2 966.5 555.6 967.2 556.8 964.9 557.3 967 557.8 964.8 558.2 966.4 559 964.1 560 964.4 560.9 968 562.6 967 563.5 968.3 564.8 966.6 565.2 969 565.7 966.9 566.1 968.1 567.3 968 567.8 965.7 568.2 968.2 568.7 968.7 569.5 967.3 570.5 968.3 571.4 970.1 572.2 967.9 573.8 969.6 574.7 971.3 576.4 968.3 577.3 972.9 577.9 969.3 578.4 990.7 578.9 969.8 579.3 974.5 579.8 974.9 580.3 971 580.8 974.6 581.2 981.5 581.8 976.3 582.3 956.5 582.8 976.1 583.2 980.4 583.8 976.1 584.3 985.4 584.8 975.9 585.2 984.6 585.8 976.5 586.2 972.3 586.7 976.5 587.1 980.4 587.8 977 588.2 993.3 588.7 977.1 589.1 978.5 590.2 968.3 591.1 971 592.8 965.7 593.7 969.7 594.3 966.6 594.8 952.6 595.2 966.6 595.7 967.2 596.8 968.3 597.7 971.4 598.9 970.8 599.4 982.8 599.9 970.2 600.3 973.5 601.1 966.5 601.8 967.7 602.2 965.7 602.7 967.9 603.1 972.1 604 963.4 604.4 967.9 604.9 959.1 605.4 968.1 606.1 966 606.6 970.1 607.1 965.7 607.8 970.3 608.2 978.8 608.7 970.8 609.4 971.3 609.9 958 610.4 971.6 611.5 987.6 612.6 967.9 613.8 969.8 614.2 976.6 614.7 970 615.9 967.9 616.8 972.2 617.6 969.9 618.1 966.8 618.6 970.2 619 971.2 620.3 970.1 621.2 973.3 622.4 976.6 623.3 978.1 624.1 974.7 624.6 982.1 625.1 975.7 625.5 976.9 626.8 974.5 627.7 976.6 628.5 972.7 629.1 975.6 629.6 970.1 630.1 975.3 630.5 978.8 631.8 978.8 632.7 979.4 633.5 974.2 634.5 978.1 635 982.1 635.5 978.5 635.9 979.2 636.8 973.7 637.3 977.4 637.8 965.7 638.2 977.3 638.7 978.2 640 976.6 641.1 976.3 641.6 979.9 642.1 976.6 642.5 978.9 643.3 978.1 643.8 975.5 644.2 977.7 645.4 976.6 646.6 977.3 647.1 985.4 647.6 977.3 648 979.6 648.8 976.5 649.3 971.2 649.8 976.1 650.2 978.5 651 977.2 651.5 978.8 652 977.3 652.6 978.6 653.1 974.5 653.6 978.4 654.2 981.1 654.7 983.2 655.2 981 655.6 984.5 656.4 982.8 656.9 981 657.4 983 658.1 984.2 658.6 989.8 659.1 983.8 659.5 988.6 660.3 987.4 660.8 983.2 661.2 986.7 662.4 985.4 663.6 984.4 664.1 994.2 664.6 984.3 665.7 982.1 666.6 983.7 667.9 983.2 668.8 982.4 670.1 979.9 671.7 967.9" fill="none" stroke="#000" stroke-width="3.3" stroke-linejoin="round" stroke-linecap="round" opacity="1"/>
<path d="M124.7 609.4 124.7 618.9 125 682.9 126 665.5 127.5 666.5 129.1 665.5 130.1 668.6 130.6 682.9 131.6 674.7 132.6 674.7 133.7 679.8 135.2 682.9 136.7 678.8 137.8 689 138.3 704.4 139.8 704.4 140.8 699.2 141.8 676.8 143.4 689 144.4 698.2 145.4 677.8 147 676.8 148 695.2 149 712 150 689 151 689 152.1 699.2 153.6 709.5 154.4 726.6 156.1 702.3 157.2 709.5 158.3 729.6 159.7 711.5 161.3 710.5 162.5 726.6 164.3 722.9 165.6 720.1 167.5 719.8 168.7 723.6 170.6 719.8 172.4 728.6 173.6 704.4 175.2 696.2 176.5 695.2 178.3 704.4 180.3 715.7 181.4 725.9 182.9 712.6 184.4 715.7 186 725.9 187.5 723.9 189 729.6 189.5 747.2 191.1 732.9 192.7 739.6 194.7 751.6 196.7 739.6 198.4 699.5 199.4 677.5 200.3 674.7 201.8 684.9 203.8 690.1 205.9 704.4 207.9 724.9 209.5 704.4 211 703.3 212.5 710.5 214.1 699.2 215.1 668.6 216.1 627.6 216.6 614.4 217.6 614.4 218.6 648.1 219.2 678.8 219.7 704.4 221.7 709.5 223.2 719.8 224.4 726.6 225.3 744.1 227.3 734.9 228.9 716.7 230.4 740 232.4 725.9 233.5 734.9 235.5 725.7 237.6 732.9 239.2 726.2 240.7 736.5 242.3 749.7 244.3 754.9 245.8 746.7 247.4 745.7 248.6 768.7 250.4 723.2 252.3 717 253.5 736.5 255 726.2 256.6 720.1 258.1 741.6 259.6 742.6 261.2 728.3 262.7 731.3 264.2 696.5 265.8 726.2 266.8 752.8 268.3 726.2 269.9 692.4 270.9 686.3 271.9 710.8 272.9 721.1 274.5 735.4 276 713 277.5 710.8 278.6 693.4 280.2 706.7 281.2 731.3 282.2 764.6 283.3 763.1 284.8 749.8 285.8 741.6 286.8 724.2 288.3 739.6 289.9 755.9 291.4 741.6 291.9 742.6 292.9 770.4 295.5 780.6 297.5 795.9 299.6 799 301.1 799.1 301.6 816.3 302 799.2 302.5 808.8 303.4 813.3 304.4 793.9 305.9 793.9 306.5 806.1 307.5 790.8 308.5 794.2 309 777.5 309.4 794.1 310 796.2 310.5 785.7 310.9 795.5 312.1 806.1 313.6 810.2 314.5 811.1 315.7 811.2 316.2 831.8 317.2 840.2 318.1 841.8 319.7 843.3 320.6 844.7 321.4 844.5 322.8 846.4 323.8 845.6 324.3 853.5 324.7 845.9 325.2 848.1 326.4 849.5 326.9 845.3 327.3 849.5 327.9 848.6 328.4 838.7 328.8 848.8 329.5 847.2 330 853.5 330.4 847.7 330.9 851.3 332 848.4 332.9 851.3 334.2 850.5 334.6 846.4 335.1 850 335.5 852.6 336.4 846 337.2 847.3 337.6 857.6 338.1 847.9 338.5 850.7 339.7 845.3 340.6 840.7 341.7 830 342.7 795.4 343.6 837.4 344.8 801 345.3 831.8 345.8 864.8 346.7 867.5 348.3 866.8 349.2 870 350.4 870.9 351.4 878.1 352.3 874.1 353.1 871.8 353.5 868.8 354 871.9 354.6 875 355 867.8 355.5 875.5 356.1 873.3 356.5 878.1 357 873.5 357.4 875.6 358.2 872.1 358.6 879.2 359.1 872.2 359.5 873.4 360.2 872 360.6 868.8 361.1 872 361.5 876.8 362.8 872.7 363.2 860.7 363.7 872.3 364.7 883.3 365.6 885.9 366.5 886.3 367.6 883.3 368.5 885.9 369.2 884 369.6 887.2 370.1 884.4 370.5 885.4 371.8 882.2 372.2 879.3 372.7 882.3 373.1 882.5 374.4 879.9 374.8 883.3 375.3 880.5 375.7 881.9 376.4 881.4 376.8 860.8 377.3 881.5 377.7 882.4 378.1 879.3 378.6 883 379 885.7 380.1 889.8 381 892.3 382.3 892.3 382.7 897.7 383.2 892.3 383.6 896.3 384.3 896 384.7 888.5 385.2 895.5 385.6 899.8 386.6 900.3 387.5 907.3 388.2 904.8 388.6 921.4 389.1 904.4 389.5 909.9 390.2 910.8 390.7 908.2 391.1 911 391.6 913.6 392.1 909.3 392.6 897.7 393 909.3 393.5 911.4 394.1 902.7 394.6 932 395 903.3 395.5 904.2 396.1 900.1 396.6 888.5 397 900.3 397.5 903 398.1 897.3 398.6 903 399 897.8 399.5 899.5 400.5 895.1 401.4 899.5 402 897.7 402.5 892.5 402.9 897.6 403.4 899.7 404.5 900.3 405.4 907.7 406.4 913.5 407.3 918.7 407.9 919.1 408.4 921.4 408.8 918.6 409.3 924.9 409.9 925.2 410.4 937.2 410.8 924.9 411.3 928.1 411.9 926.5 412.4 918.7 412.8 926.8 413.3 928.8 413.8 926.6 414.3 932 414.7 926.6 415.2 928.4 415.8 926.2 416.3 918.7 416.7 925.6 417.2 928.4 417.8 926.2 418.3 930.7 418.7 925.7 419.2 929.7 420.4 928.8 420.9 921.4 421.3 928.5 421.8 933.5 422.4 928.5 422.9 932 423.3 928.7 423.8 932.3 424.3 929.5 424.8 942.5 425.2 929.1 425.7 935.3 426.3 934 426.8 929.3 427.2 933.9 427.7 940.6 428.3 933.6 428.8 918.7 429.2 933.6 429.7 935.8 430.3 930.5 430.8 950.4 431.2 930.4 431.7 934.7 432.7 932 433.6 938.7 434.4 937.8 434.9 940.7 435.4 929.3 435.8 940.7 436.3 946.7 436.8 945.9 437.3 960.9 437.7 945.8 438.2 948 439.3 945.1 440.2 949 441.3 947.7 442.2 949.8 442.7 946.9 443.2 942.5 443.6 946.6 444.1 947.9 445.2 952" fill="none" stroke="rgb(60,110,165)" stroke-width="3.3" stroke-linejoin="round" stroke-linecap="round" opacity="0.7"/>
<path d="M116.2 730.7L215.9 794.3M228.7 799.3L327.2 815.6M341.1 817.2L439.1 823.5" fill="none" stroke="#7d0c10" stroke-width="2.2"/>
</g>
<rect x="109.1" y="623.1" width="561.9" height="452.6" fill="none" stroke="#000" stroke-width="2.1"/>
<path d="M109.1 1075.7v9M142.9 1075.7v4.3M142.9 623.1v4.3M162.7 1075.7v4.3M162.7 623.1v4.3M176.8 1075.7v4.3M176.8 623.1v4.3M187.7 1075.7v4.3M187.7 623.1v4.3M196.5 1075.7v4.3M196.5 623.1v4.3M204.1 1075.7v4.3M204.1 623.1v4.3M210.6 1075.7v4.3M210.6 623.1v4.3M216.3 1075.7v4.3M216.3 623.1v4.3M221.5 1075.7v9M221.5 623.1v8.5M255.3 1075.7v4.3M255.3 623.1v4.3M275.1 1075.7v4.3M275.1 623.1v4.3M289.1 1075.7v4.3M289.1 623.1v4.3M300 1075.7v4.3M300 623.1v4.3M308.9 1075.7v4.3M308.9 623.1v4.3M316.5 1075.7v4.3M316.5 623.1v4.3M323 1075.7v4.3M323 623.1v4.3M328.7 1075.7v4.3M328.7 623.1v4.3M333.9 1075.7v9M333.9 623.1v8.5M367.7 1075.7v4.3M367.7 623.1v4.3M387.5 1075.7v4.3M387.5 623.1v4.3M401.5 1075.7v4.3M401.5 623.1v4.3M412.4 1075.7v4.3M412.4 623.1v4.3M421.3 1075.7v4.3M421.3 623.1v4.3M428.8 1075.7v4.3M428.8 623.1v4.3M435.3 1075.7v4.3M435.3 623.1v4.3M441.1 1075.7v4.3M441.1 623.1v4.3M446.2 1075.7v9M446.2 623.1v8.5M480.1 1075.7v4.3M480.1 623.1v4.3M499.9 1075.7v4.3M499.9 623.1v4.3M513.9 1075.7v4.3M513.9 623.1v4.3M524.8 1075.7v4.3M524.8 623.1v4.3M533.7 1075.7v4.3M533.7 623.1v4.3M541.2 1075.7v4.3M541.2 623.1v4.3M547.7 1075.7v4.3M547.7 623.1v4.3M553.5 1075.7v4.3M553.5 623.1v4.3M558.6 1075.7v9M558.6 623.1v8.5M592.4 1075.7v4.3M592.4 623.1v4.3M612.2 1075.7v4.3M612.2 623.1v4.3M626.3 1075.7v4.3M626.3 623.1v4.3M637.2 1075.7v4.3M637.2 623.1v4.3M646.1 1075.7v4.3M646.1 623.1v4.3M653.6 1075.7v4.3M653.6 623.1v4.3M660.1 1075.7v4.3M660.1 623.1v4.3M665.9 1075.7v4.3M665.9 623.1v4.3M671 1075.7v9M109.1 649.2h-9M671 649.2h-8.5M109.1 686.9h-4.3M671 686.9h-4.3M109.1 724.6h-9M671 724.6h-8.5M109.1 762.3h-4.3M671 762.3h-4.3M109.1 800h-9M671 800h-8.5M109.1 837.8h-4.3M671 837.8h-4.3M109.1 875.5h-9M671 875.5h-8.5M109.1 913.2h-4.3M671 913.2h-4.3M109.1 950.9h-9M671 950.9h-8.5M109.1 988.6h-4.3M671 988.6h-4.3M109.1 1026.3h-9M671 1026.3h-8.5M109.1 1064h-4.3M671 1064h-4.3" stroke="#000" stroke-width="2.1" fill="none"/>
<text x="91.1" y="656.9" text-anchor="end" font-size="22.6" transform="matrix(1 0 0 1.06 0 -39.41)"><tspan dy="1.2">−</tspan><tspan dy="-1.2">40</tspan></text>
<text x="91.1" y="732.3" text-anchor="end" font-size="22.6" transform="matrix(1 0 0 1.06 0 -43.94)"><tspan dy="1.2">−</tspan><tspan dy="-1.2">60</tspan></text>
<text x="91.1" y="807.7" text-anchor="end" font-size="22.6" transform="matrix(1 0 0 1.06 0 -48.46)"><tspan dy="1.2">−</tspan><tspan dy="-1.2">80</tspan></text>
<text x="91.1" y="883.2" text-anchor="end" font-size="22.6" transform="matrix(1 0 0 1.06 0 -52.99)"><tspan dy="1.2">−</tspan><tspan dy="-1.2">100</tspan></text>
<text x="91.1" y="958.6" text-anchor="end" font-size="22.6" transform="matrix(1 0 0 1.06 0 -57.52)"><tspan dy="1.2">−</tspan><tspan dy="-1.2">120</tspan></text>
<text x="91.1" y="1034" text-anchor="end" font-size="22.6" transform="matrix(1 0 0 1.06 0 -62.04)"><tspan dy="1.2">−</tspan><tspan dy="-1.2">140</tspan></text>
<text x="109.1" y="1111.1" text-anchor="middle" font-size="22.6" transform="matrix(1 0 0 1.06 0 -66.67)">10</text>
<text x="221.5" y="1111.1" text-anchor="middle" font-size="22.6" transform="matrix(1 0 0 1.06 0 -66.67)">100</text>
<text x="333.9" y="1111.1" text-anchor="middle" font-size="22.6" transform="matrix(1 0 0 1.06 0 -66.67)">1k</text>
<text x="446.2" y="1111.1" text-anchor="middle" font-size="22.6" transform="matrix(1 0 0 1.06 0 -66.67)">10k</text>
<text x="558.6" y="1111.1" text-anchor="middle" font-size="22.6" transform="matrix(1 0 0 1.06 0 -66.67)">100k</text>
<text x="669.8" y="1111.1" text-anchor="middle" font-size="22.6" transform="matrix(1 0 0 1.06 0 -66.67)">1M</text>
<text x="387" y="1143.8" text-anchor="middle" font-size="22.5" transform="matrix(1 0 0 1.06 0 -68.63)">Offset frequency (Hz)</text>
<text transform="translate(21.4,852.9) rotate(-90) scale(1,1.06)" text-anchor="middle" font-size="22.25">SSB phase noise (dBc/Hz) @19.2 GHz</text>
<text x="0" y="612.5" font-size="31" font-weight="bold">b</text>
<circle cx="110.3" cy="727" r="3.7" fill="#fff" stroke="#7d0c10" stroke-width="2.3"/>
<circle cx="221.8" cy="798.1" r="3.7" fill="#fff" stroke="#7d0c10" stroke-width="2.3"/>
<circle cx="334.1" cy="816.7" r="3.7" fill="#fff" stroke="#7d0c10" stroke-width="2.3"/>
<circle cx="446.1" cy="824" r="3.7" fill="#fff" stroke="#7d0c10" stroke-width="2.3"/>
<text x="312.1" y="704.8" font-size="22.4" textLength="187" lengthAdjust="spacingAndGlyphs" style="fill:#7ea6d4" transform="matrix(1 0 0 1.06 0 -42.29)">Free-running comb</text>
<polygon points="304.9,703.7 295.4,710.6 293.4,704.6 285.9,719.7 302.6,717.1 297.4,713.4 306.9,706.5" fill="#7ea6d4"/>
<text x="379.3" y="788.4" font-size="22.4" style="fill:#7d0c10" transform="matrix(1 0 0 1.06 0 -47.30)">H-maser</text>
<polygon points="396.4,792.6 384.4,806.7 381.1,801.3 377.3,817.8 392.9,811.4 387.0,809.0 399.0,794.8" fill="#7d0c10"/>
<text x="489.7" y="832.3" font-size="22.4" style="fill:#ec6b6e" transform="matrix(1 0 0 1.06 0 -49.94)">H-maser-locked</text>
<text x="489.7" y="860.6" font-size="22.4" style="fill:#ec6b6e" transform="matrix(1 0 0 1.06 0 -51.64)">OCXO</text>
<polygon points="495.0,870.9 488.4,890.6 483.4,886.8 485.9,903.5 498.0,891.8 491.7,891.7 498.4,872.1" fill="#ec6b6e"/>
<text x="437" y="1020.8" font-size="22.4" transform="matrix(1 0 0 1.06 0 -61.25)">Extracted LO</text>
<polygon points="500.4,994.9 509.6,988.4 511.5,994.4 519.2,979.4 502.5,981.8 507.6,985.5 498.4,992.1" fill="#231f20"/>
<text x="128.5" y="1034.9" font-size="22.4" textLength="189.2" lengthAdjust="spacingAndGlyphs" transform="matrix(1 0 0 1.06 0 -62.09)">Thermal noise floor</text>
</svg>
</body></html>
